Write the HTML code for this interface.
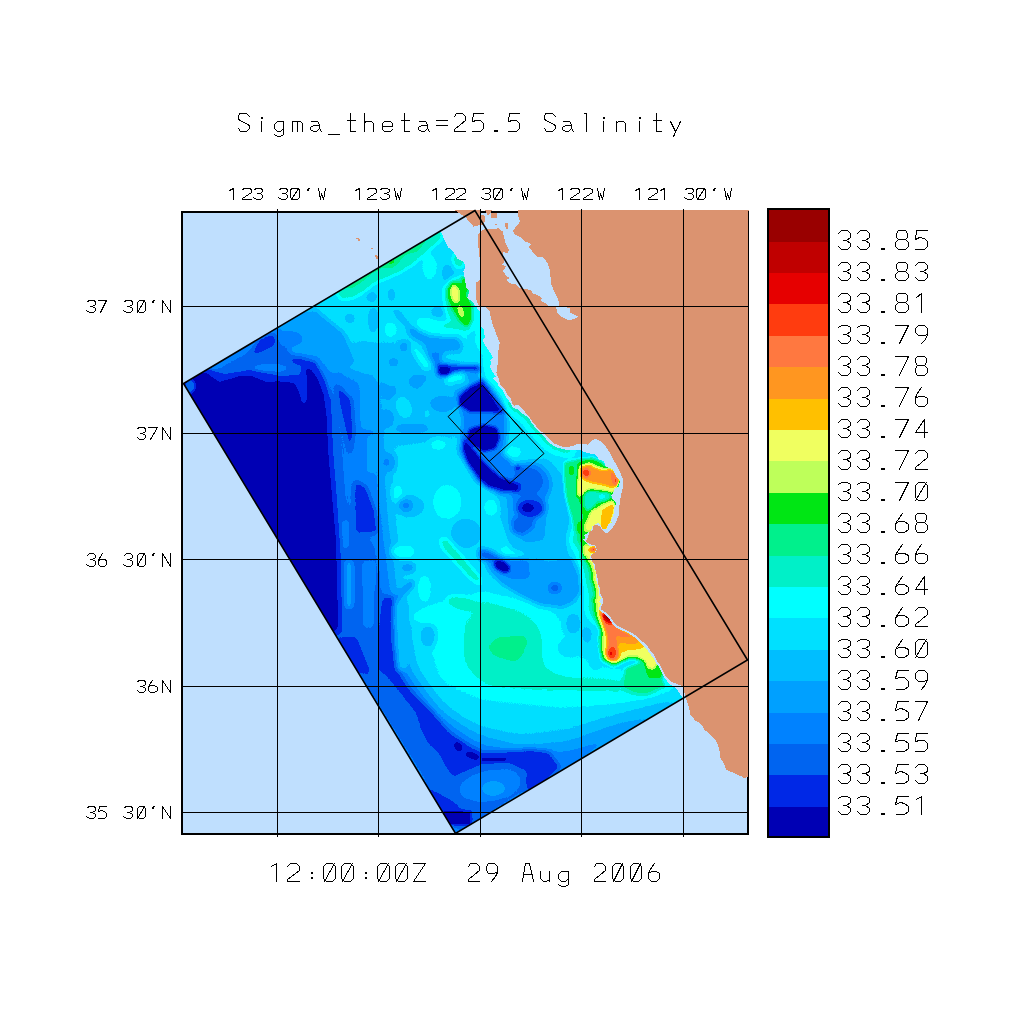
<!DOCTYPE html>
<html><head><meta charset="utf-8"><title>Sigma_theta=25.5 Salinity</title>
<style>html,body{margin:0;padding:0;background:#fff;font-family:"Liberation Sans",sans-serif;}body{width:1024px;height:1024px;overflow:hidden}svg{display:block}</style>
</head><body>
<svg width="1024" height="1024" viewBox="0 0 1024 1024" shape-rendering="crispEdges">
<defs>
<clipPath id="dom"><polygon points="475.0,210.5 183.5,383.5 455.5,833.5 747.5,660.0"/></clipPath>
<clipPath id="inner"><rect x="183" y="213" width="564" height="620"/></clipPath>
<clipPath id="frame"><rect x="181" y="210" width="568" height="625"/></clipPath>
<filter id="b1" x="-50%" y="-50%" width="200%" height="200%" color-interpolation-filters="sRGB"><feGaussianBlur stdDeviation="1.2"/></filter>
<filter id="b15" x="-50%" y="-50%" width="200%" height="200%" color-interpolation-filters="sRGB"><feGaussianBlur stdDeviation="1.5"/></filter>
<filter id="b2" x="-50%" y="-50%" width="200%" height="200%" color-interpolation-filters="sRGB"><feGaussianBlur stdDeviation="2"/></filter>
<filter id="b25" x="-50%" y="-50%" width="200%" height="200%" color-interpolation-filters="sRGB"><feGaussianBlur stdDeviation="2.5"/></filter>
<filter id="b3" x="-50%" y="-50%" width="200%" height="200%" color-interpolation-filters="sRGB"><feGaussianBlur stdDeviation="3"/></filter>
<filter id="b4" x="-50%" y="-50%" width="200%" height="200%" color-interpolation-filters="sRGB"><feGaussianBlur stdDeviation="4"/></filter>
<filter id="b5" x="-50%" y="-50%" width="200%" height="200%" color-interpolation-filters="sRGB"><feGaussianBlur stdDeviation="5"/></filter>
<filter id="b6" x="-50%" y="-50%" width="200%" height="200%" color-interpolation-filters="sRGB"><feGaussianBlur stdDeviation="6"/></filter>
<filter id="b8" x="-50%" y="-50%" width="200%" height="200%" color-interpolation-filters="sRGB"><feGaussianBlur stdDeviation="8"/></filter>
<filter id="b10" x="-50%" y="-50%" width="200%" height="200%" color-interpolation-filters="sRGB"><feGaussianBlur stdDeviation="10"/></filter>
<filter id="cmap" x="0" y="0" width="1024" height="1024" filterUnits="userSpaceOnUse" color-interpolation-filters="sRGB"><feComponentTransfer><feFuncR type="discrete" tableValues="0.0000 0.0000 0.0000 0.0000 0.0000 0.0000 0.0000 0.0000 0.0000 0.0000 0.0000 0.7451 0.9412 1.0000 1.0000 1.0000 1.0000 0.9020 0.7529 0.6000"/><feFuncG type="discrete" tableValues="0.0000 0.1569 0.3922 0.5098 0.6275 0.7451 0.8784 1.0000 0.9412 0.9412 0.9020 1.0000 1.0000 0.7529 0.5882 0.4706 0.2353 0.0000 0.0000 0.0000"/><feFuncB type="discrete" tableValues="0.7059 0.9020 0.9412 1.0000 1.0000 1.0000 1.0000 1.0000 0.7843 0.5490 0.0784 0.3529 0.3765 0.0000 0.1255 0.2510 0.0588 0.0000 0.0000 0.0000"/></feComponentTransfer></filter>
</defs>
<rect x="181" y="211" width="568" height="624" fill="#000"/>
<rect x="183" y="213" width="564" height="620" fill="#BFDFFE"/>
<g clip-path="url(#dom)"><g filter="url(#cmap)">
<rect x="150" y="180" width="640" height="690" fill="#535353"/>
<g filter="url(#b8)">
<polygon points="400.0,640.0 405.0,690.0 430.0,712.0 470.0,728.0 520.0,736.0 570.0,730.0 610.0,716.0 665.0,695.0 700.0,720.0 470.0,860.0 380.0,700.0" fill="#464646"/>
<polygon points="305.0,305.0 175.0,384.0 456.0,840.0 665.0,715.0 610.0,730.0 570.0,745.0 520.0,750.0 480.0,738.0 440.0,710.0 410.0,670.0 398.0,600.0 388.0,520.0 382.0,440.0 378.0,384.0 362.0,376.0 342.0,366.0 327.0,342.0 311.0,320.0" fill="#2d2d2d"/>
<polygon points="280.0,335.0 170.0,384.0 456.0,845.0 560.0,772.0 520.0,772.0 470.0,752.0 430.0,717.0 398.0,672.0 383.0,600.0 374.0,545.0 346.0,505.0 342.0,450.0 336.0,400.0 312.0,365.0" fill="#202020"/>
<polygon points="345.0,340.0 400.0,345.0 440.0,358.0 472.0,376.0 468.0,400.0 458.0,436.0 400.0,446.0 380.0,444.0 374.0,390.0 355.0,360.0" fill="#464646"/>
<polygon points="445.0,600.0 520.0,598.0 556.0,610.0 572.0,650.0 600.0,668.0 680.0,688.0 640.0,704.0 560.0,708.0 480.0,700.0 440.0,682.0 428.0,640.0" fill="#606060"/>
<polygon points="478.0,592.0 500.0,602.0 522.0,612.0 538.0,624.0 542.0,645.0 540.0,668.0 565.0,678.0 620.0,676.0 672.0,682.0 676.0,692.0 620.0,692.0 540.0,690.0 485.0,686.0 464.0,662.0 466.0,622.0" fill="#6c6c6c"/>
</g>
<g filter="url(#b25)">
<polygon points="334.4,288.8 349.0,280.1 378.3,263.9 391.5,256.6 417.9,240.5 441.3,227.3 442.8,239.0 423.8,255.2 415.0,263.9 400.3,272.7 387.1,278.6 375.4,283.0 365.2,291.8 352.0,299.1 340.3,299.8" fill="#6c6c6c"/>
<polygon points="338.8,287.4 349.0,280.1 378.3,263.9 391.5,256.6 417.9,240.5 426.7,234.6 426.7,242.0 416.4,248.6 407.6,254.4 394.5,262.5 382.7,268.3 371.0,274.9 360.8,283.0 350.5,288.8" fill="#797979"/>
<polygon points="421.3,244.2 421.7,245.7 421.2,247.5 420.0,249.3 418.2,250.9 416.0,252.2 413.7,253.0 411.5,253.1 409.8,252.6 408.6,251.5 408.2,250.0 408.7,248.2 409.9,246.4 411.7,244.7 413.9,243.4 416.2,242.7 418.4,242.6 420.2,243.1" fill="#797979"/>
<polygon points="398.6,258.8 398.8,260.0 398.2,261.5 396.8,263.1 394.9,264.6 392.7,265.9 390.5,266.7 388.4,267.1 386.8,266.9 385.9,266.1 385.7,265.0 386.4,263.5 387.7,261.9 389.6,260.4 391.8,259.1 394.0,258.2 396.1,257.9 397.7,258.1" fill="#868686"/>
<polygon points="436.9,266.9 436.5,271.4 435.2,275.3 433.3,278.3 430.9,279.9 428.3,279.9 425.9,278.3 424.0,275.3 422.7,271.4 422.3,266.9 422.7,262.4 424.0,258.4 425.9,255.5 428.3,253.9 430.9,253.9 433.3,255.5 435.2,258.4 436.5,262.4" fill="#606060"/>
<polygon points="396.7,329.9 396.3,332.6 395.1,335.0 393.4,336.8 391.2,337.8 388.9,337.8 386.8,336.8 385.0,335.0 383.9,332.6 383.5,329.9 383.9,327.1 385.0,324.7 386.8,322.9 388.9,321.9 391.2,321.9 393.4,322.9 395.1,324.7 396.3,327.1" fill="#606060"/>
<polygon points="465.5,259.6 465.1,262.6 464.0,265.2 462.2,267.2 460.1,268.2 457.8,268.2 455.6,267.2 453.9,265.2 452.7,262.6 452.3,259.6 452.7,256.5 453.9,253.9 455.6,251.9 457.8,250.9 460.1,250.9 462.2,251.9 464.0,253.9 465.1,256.5" fill="#6c6c6c"/>
<polygon points="453.8,273.5 453.4,276.7 452.4,279.6 450.8,281.7 448.9,282.8 446.9,282.8 445.0,281.7 443.4,279.6 442.4,276.7 442.1,273.5 442.4,270.2 443.4,267.3 445.0,265.2 446.9,264.1 448.9,264.1 450.8,265.2 452.4,267.3 453.4,270.2" fill="#464646"/>
<polygon points="394.7,294.7 394.6,297.5 394.0,299.9 393.1,301.7 392.1,302.6 391.0,302.6 389.9,301.7 389.1,299.9 388.5,297.5 388.3,294.7 388.5,292.0 389.1,289.5 389.9,287.7 391.0,286.8 392.1,286.8 393.1,287.7 394.0,289.5 394.6,292.0" fill="#464646"/>
<polygon points="377.3,296.9 377.0,298.8 376.0,300.5 374.5,301.7 372.7,302.4 370.8,302.4 369.0,301.7 367.5,300.5 366.5,298.8 366.2,296.9 366.5,295.0 367.5,293.3 369.0,292.1 370.8,291.4 372.7,291.4 374.5,292.1 376.0,293.3 377.0,295.0" fill="#464646"/>
<polygon points="444.7,312.3 444.3,314.4 443.1,316.2 441.2,317.6 438.9,318.3 436.4,318.3 434.2,317.6 432.3,316.2 431.1,314.4 430.6,312.3 431.1,310.2 432.3,308.3 434.2,307.0 436.4,306.2 438.9,306.2 441.2,307.0 443.1,308.3 444.3,310.2" fill="#464646"/>
<polygon points="378.8,319.6 378.4,323.9 377.5,327.6 376.0,330.4 374.2,331.9 372.2,331.9 370.4,330.4 368.9,327.6 368.0,323.9 367.6,319.6 368.0,315.4 368.9,311.6 370.4,308.8 372.2,307.3 374.2,307.3 376.0,308.8 377.5,311.6 378.4,315.4" fill="#464646"/>
<polygon points="355.3,318.1 355.0,319.7 354.0,321.2 352.6,322.2 350.7,322.8 348.8,322.8 347.0,322.2 345.5,321.2 344.5,319.7 344.2,318.1 344.5,316.5 345.5,315.1 347.0,314.1 348.8,313.5 350.7,313.5 352.6,314.1 354.0,315.1 355.0,316.5" fill="#464646"/>
<polygon points="418.7,317.0 438.6,319.3 445.6,328.7 455.0,333.4 469.1,336.3 474.9,342.1 466.7,339.8 455.0,337.5 445.6,336.3 429.2,333.9 418.7,329.3 415.2,322.2" fill="#606060"/>
<polygon points="440.9,322.2 455.0,321.6 469.1,328.7 469.1,333.4 455.0,330.4 443.3,327.5" fill="#6c6c6c"/>
<polygon points="390.5,307.6 398.8,309.9 410.5,324.0 408.1,328.7 397.6,319.3" fill="#464646"/>
<polygon points="407.0,325.2 418.7,331.0 429.2,335.7 445.6,336.9 457.3,336.9 462.6,345.1 459.7,352.7 450.3,351.5 440.9,353.9 435.1,355.6 430.4,360.3 426.9,353.3 424.5,345.1 415.2,339.2 408.1,332.2" fill="#393939"/>
<polygon points="430.4,350.9 442.1,353.9 440.9,361.5 435.1,365.0 431.6,360.3" fill="#2d2d2d"/>
<polygon points="416.6,333.4 416.4,334.2 416.0,335.0 415.3,335.6 414.4,335.9 413.5,335.9 412.7,335.6 412.0,335.0 411.6,334.2 411.4,333.4 411.6,332.5 412.0,331.7 412.7,331.1 413.5,330.8 414.4,330.8 415.3,331.1 416.0,331.7 416.4,332.5" fill="#2d2d2d"/>
<polygon points="411.6,343.9 418.7,348.6 426.9,358.0 432.1,367.9 426.9,367.9 419.8,358.6 412.2,350.4" fill="#606060"/>
<polygon points="397.6,329.8 397.2,332.2 395.9,334.4 394.1,335.9 391.8,336.8 389.3,336.8 387.0,335.9 385.2,334.4 383.9,332.2 383.5,329.8 383.9,327.4 385.2,325.3 387.0,323.8 389.3,322.9 391.8,322.9 394.1,323.8 395.9,325.3 397.2,327.4" fill="#606060"/>
<polygon points="464.4,376.7 464.0,378.3 462.7,379.7 460.9,380.8 458.6,381.3 456.1,381.3 453.8,380.8 452.0,379.7 450.7,378.3 450.3,376.7 450.7,375.1 452.0,373.7 453.8,372.7 456.1,372.1 458.6,372.1 460.9,372.7 462.7,373.7 464.0,375.1" fill="#606060"/>
<polygon points="479.6,376.7 479.2,378.9 478.0,380.9 476.1,382.3 473.8,383.1 471.4,383.1 469.1,382.3 467.2,380.9 466.0,378.9 465.5,376.7 466.0,374.5 467.2,372.6 469.1,371.1 471.4,370.4 473.8,370.4 476.1,371.1 478.0,372.6 479.2,374.5" fill="#393939"/>
<polygon points="480.8,325.2 485.5,325.2 486.1,339.2 482.0,339.2" fill="#2d2d2d"/>
<polygon points="435.1,362.7 459.7,365.0 480.8,365.0 480.8,372.0 462.0,370.9 452.7,373.2 445.6,377.9 437.4,375.5" fill="#202020"/>
<polygon points="412.0,344.5 423.8,356.2 429.6,370.0 423.8,370.0 415.0,356.2" fill="#606060"/>
<polygon points="399.3,362.1 399.0,363.7 398.0,365.1 396.5,366.1 394.7,366.7 392.8,366.7 390.9,366.1 389.5,365.1 388.5,363.7 388.2,362.1 388.5,360.5 389.5,359.1 390.9,358.0 392.8,357.5 394.7,357.5 396.5,358.0 398.0,359.1 399.0,360.5" fill="#393939"/>
<polygon points="409.5,346.7 409.2,348.6 408.2,350.3 406.8,351.5 404.9,352.2 403.0,352.2 401.2,351.5 399.7,350.3 398.7,348.6 398.4,346.7 398.7,344.8 399.7,343.1 401.2,341.9 403.0,341.2 404.9,341.2 406.8,341.9 408.2,343.1 409.2,344.8" fill="#393939"/>
<polygon points="442.8,290.3 450.1,278.6 461.8,277.1 469.2,290.3 476.5,305.0 475.0,325.5 469.2,332.8 456.0,328.4 445.7,313.8" fill="#6c6c6c"/>
<polygon points="279.6,327.2 314.8,309.6 344.0,333.0 355.8,362.4 332.4,374.0 317.7,356.5 291.3,353.6" fill="#393939"/>
<polygon points="250.5,354.2 259.3,338.1 273.9,332.2 276.9,343.9 268.1,348.3 256.4,354.2" fill="#131313"/>
<polygon points="289.3,368.1 288.2,369.6 284.9,370.9 279.8,371.9 273.6,372.4 267.0,372.4 260.8,371.9 255.7,370.9 252.4,369.6 251.2,368.1 252.4,366.6 255.7,365.3 260.8,364.3 267.0,363.8 273.6,363.8 279.8,364.3 284.9,365.3 288.2,366.6" fill="#2d2d2d"/>
<polygon points="303.2,338.8 302.4,341.6 300.2,344.0 296.7,345.8 292.3,346.8 287.8,346.8 283.5,345.8 280.0,344.0 277.7,341.6 276.9,338.8 277.7,336.1 280.0,333.6 283.5,331.8 287.8,330.9 292.3,330.9 296.7,331.8 300.2,333.6 302.4,336.1" fill="#2d2d2d"/>
<polygon points="290.1,358.6 300.3,357.9 312.0,363.0 317.9,376.2 312.0,370.3 300.3,365.2 291.5,363.0" fill="#131313"/>
<polygon points="359.3,377.3 373.9,377.3 373.9,428.6 360.8,428.6" fill="#393939"/>
<polygon points="366.6,435.9 375.4,435.9 375.4,472.5 367.4,472.5" fill="#393939"/>
<polygon points="335.9,383.2 352.0,399.3 354.2,431.5 350.5,456.4 344.6,428.6 338.1,399.3" fill="#131313"/>
<polygon points="354.9,479.9 366.6,487.2 375.4,510.6 378.3,532.6 355.6,532.6 353.4,494.5" fill="#131313"/>
<polygon points="396.7,386.1 396.2,390.9 394.8,395.1 392.6,398.2 390.0,399.8 387.2,399.8 384.6,398.2 382.4,395.1 381.0,390.9 380.5,386.1 381.0,381.4 382.4,377.2 384.6,374.1 387.2,372.4 390.0,372.4 392.6,374.1 394.8,377.2 396.2,381.4" fill="#393939"/>
<polygon points="430.3,381.7 429.7,384.2 427.8,386.4 424.8,388.1 421.3,388.9 417.4,388.9 413.9,388.1 410.9,386.4 409.0,384.2 408.4,381.7 409.0,379.2 410.9,377.0 413.9,375.4 417.4,374.5 421.3,374.5 424.8,375.4 427.8,377.0 429.7,379.2" fill="#393939"/>
<polygon points="456.0,403.7 455.2,406.4 452.9,408.9 449.4,410.7 445.1,411.6 440.5,411.6 436.2,410.7 432.7,408.9 430.4,406.4 429.6,403.7 430.4,400.9 432.7,398.5 436.2,396.7 440.5,395.8 445.1,395.8 449.4,396.7 452.9,398.5 455.2,400.9" fill="#393939"/>
<polygon points="429.6,428.6 428.5,430.3 425.5,431.9 420.8,433.0 415.1,433.6 409.0,433.6 403.2,433.0 398.6,431.9 395.5,430.3 394.5,428.6 395.5,426.8 398.6,425.3 403.2,424.2 409.0,423.5 415.1,423.5 420.8,424.2 425.5,425.3 428.5,426.8" fill="#393939"/>
<polygon points="394.5,418.3 394.0,421.3 392.7,424.0 390.8,426.0 388.4,427.0 385.9,427.0 383.5,426.0 381.5,424.0 380.2,421.3 379.8,418.3 380.2,415.3 381.5,412.7 383.5,410.7 385.9,409.7 388.4,409.7 390.8,410.7 392.7,412.7 394.0,415.3" fill="#393939"/>
<polygon points="411.5,404.6 412.5,408.5 412.4,412.3 411.2,415.5 409.2,417.7 406.6,418.7 403.7,418.3 400.8,416.5 398.2,413.7 396.4,410.1 395.5,406.2 395.6,402.4 396.7,399.2 398.7,397.0 401.3,396.0 404.3,396.4 407.2,398.2 409.7,401.0" fill="#535353"/>
<polygon points="429.9,413.9 429.7,415.9 429.1,417.7 428.3,419.0 427.2,419.7 426.1,419.7 425.1,419.0 424.2,417.7 423.7,415.9 423.5,413.9 423.7,411.9 424.2,410.2 425.1,408.9 426.1,408.2 427.2,408.2 428.3,408.9 429.1,410.2 429.7,411.9" fill="#535353"/>
<polygon points="444.3,387.6 443.6,390.6 441.5,393.2 438.4,395.2 434.6,396.2 430.5,396.2 426.7,395.2 423.6,393.2 421.5,390.6 420.8,387.6 421.5,384.6 423.6,381.9 426.7,380.0 430.5,378.9 434.6,378.9 438.4,380.0 441.5,381.9 443.6,384.6" fill="#464646"/>
<polygon points="457.4,425.7 456.6,427.9 454.4,429.9 450.8,431.4 446.5,432.2 442.0,432.2 437.7,431.4 434.2,429.9 431.9,427.9 431.1,425.7 431.9,423.4 434.2,421.4 437.7,420.0 442.0,419.2 446.5,419.2 450.8,420.0 454.4,421.4 456.6,423.4" fill="#464646"/>
<polygon points="400.3,378.8 399.8,381.3 398.3,383.5 395.9,385.1 393.0,386.0 390.0,386.0 387.1,385.1 384.8,383.5 383.3,381.3 382.7,378.8 383.3,376.3 384.8,374.1 387.1,372.4 390.0,371.6 393.0,371.6 395.9,372.4 398.3,374.1 399.8,376.3" fill="#464646"/>
<polygon points="447.2,444.7 446.7,446.7 445.1,448.5 442.8,449.8 439.9,450.5 436.9,450.5 434.0,449.8 431.7,448.5 430.1,446.7 429.6,444.7 430.1,442.7 431.7,440.9 434.0,439.6 436.9,438.9 439.9,438.9 442.8,439.6 445.1,440.9 446.7,442.7" fill="#606060"/>
<polygon points="461.8,501.8 461.0,507.8 458.4,513.1 454.5,517.1 449.7,519.1 444.6,519.1 439.9,517.1 436.0,513.1 433.4,507.8 432.5,501.8 433.4,495.8 436.0,490.5 439.9,486.6 444.6,484.5 449.7,484.5 454.5,486.6 458.4,490.5 461.0,495.8" fill="#606060"/>
<polygon points="403.2,493.0 402.9,496.1 401.9,498.7 400.3,500.7 398.4,501.7 396.4,501.7 394.5,500.7 392.9,498.7 391.9,496.1 391.5,493.0 391.9,490.0 392.9,487.4 394.5,485.4 396.4,484.4 398.4,484.4 400.3,485.4 401.9,487.4 402.9,490.0" fill="#606060"/>
<polygon points="396.4,462.3 395.8,465.9 394.4,469.1 392.1,471.4 389.3,472.7 386.4,472.7 383.6,471.4 381.4,469.1 379.9,465.9 379.4,462.3 379.9,458.7 381.4,455.5 383.6,453.2 386.4,451.9 389.3,451.9 392.1,453.2 394.4,455.5 395.8,458.7" fill="#393939"/>
<polygon points="390.5,462.3 390.3,463.9 389.5,465.3 388.4,466.3 387.1,466.9 385.7,466.9 384.3,466.3 383.3,465.3 382.5,463.9 382.3,462.3 382.5,460.7 383.3,459.3 384.3,458.2 385.7,457.7 387.1,457.7 388.4,458.2 389.5,459.3 390.3,460.7" fill="#2d2d2d"/>
<polygon points="424.5,506.2 423.6,510.0 421.1,513.3 417.2,515.7 412.4,517.0 407.3,517.0 402.5,515.7 398.6,513.3 396.1,510.0 395.2,506.2 396.1,502.5 398.6,499.2 402.5,496.7 407.3,495.4 412.4,495.4 417.2,496.7 421.1,499.2 423.6,502.5" fill="#464646"/>
<polygon points="412.3,505.5 412.0,507.3 410.9,508.9 409.2,510.1 407.2,510.7 405.1,510.7 403.1,510.1 401.5,508.9 400.4,507.3 400.0,505.5 400.4,503.7 401.5,502.1 403.1,500.9 405.1,500.3 407.2,500.3 409.2,500.9 410.9,502.1 412.0,503.7" fill="#2d2d2d"/>
<polygon points="465.2,378.1 464.9,379.5 463.9,380.7 462.4,381.6 460.6,382.1 458.7,382.1 456.9,381.6 455.4,380.7 454.4,379.5 454.1,378.1 454.4,376.7 455.4,375.4 456.9,374.5 458.7,374.0 460.6,374.0 462.4,374.5 463.9,375.4 464.9,376.7" fill="#606060"/>
<polygon points="344.6,561.0 353.4,561.0 353.4,607.9 344.6,607.9" fill="#393939"/>
<polygon points="362.2,561.0 373.9,561.0 373.9,628.4 363.0,628.4" fill="#2d2d2d"/>
<polygon points="341.7,520.0 349.0,520.0 349.0,549.3 342.5,549.3" fill="#2d2d2d"/>
<polygon points="335.9,637.2 356.4,637.2 371.0,673.8 352.0,673.8" fill="#131313"/>
<polygon points="394.5,602.0 406.2,602.0 407.6,670.0 397.4,670.0" fill="#464646"/>
<polygon points="383.5,596.2 394.5,596.2 392.3,622.5 393.7,651.8 398.1,672.3 379.1,672.3 379.5,622.5 381.0,602.0" fill="#131313"/>
<polygon points="394.5,596.2 406.2,584.5 412.0,580.1 414.2,585.2 403.2,594.0 394.5,602.8" fill="#2d2d2d"/>
<polygon points="415.7,551.5 414.9,553.9 412.8,556.0 409.5,557.6 405.4,558.4 401.1,558.4 397.0,557.6 393.7,556.0 391.5,553.9 390.8,551.5 391.5,549.1 393.7,547.0 397.0,545.4 401.1,544.6 405.4,544.6 409.5,545.4 412.8,547.0 414.9,549.1" fill="#606060"/>
<polygon points="431.5,588.8 431.1,593.6 429.9,597.8 428.0,600.9 425.7,602.6 423.3,602.6 421.0,600.9 419.1,597.8 417.9,593.6 417.5,588.8 417.9,584.1 419.1,579.9 421.0,576.8 423.3,575.1 425.7,575.1 428.0,576.8 429.9,579.9 431.1,584.1" fill="#606060"/>
<polygon points="476.7,606.6 475.4,610.4 470.3,614.4 462.0,618.2 451.6,621.2 440.4,623.2 429.6,623.9 420.5,623.2 414.4,621.1 411.8,618.0 413.1,614.2 418.2,610.2 426.5,606.4 436.9,603.3 448.1,601.3 458.9,600.7 468.0,601.4 474.1,603.5" fill="#606060"/>
<polygon points="439.9,537.6 447.2,538.3 480.9,577.9 480.9,585.2 470.6,579.3 441.3,547.1" fill="#6c6c6c"/>
<polygon points="479.6,607.9 478.0,609.8 474.7,610.9 470.0,611.2 464.4,610.5 458.8,609.0 453.7,606.8 449.7,604.2 447.4,601.6 447.0,599.1 448.6,597.2 451.9,596.1 456.6,595.8 462.2,596.5 467.8,598.0 472.9,600.2 476.9,602.7 479.2,605.4" fill="#6c6c6c"/>
<polygon points="415.3,567.6 414.8,569.4 413.5,571.0 411.4,572.2 409.0,572.8 406.3,572.8 403.8,572.2 401.8,571.0 400.5,569.4 400.0,567.6 400.5,565.8 401.8,564.2 403.8,563.0 406.3,562.4 409.0,562.4 411.4,563.0 413.5,564.2 414.8,565.8" fill="#393939"/>
<polygon points="435.8,636.5 435.3,640.4 434.0,643.8 432.0,646.4 429.5,647.7 426.8,647.7 424.3,646.4 422.3,643.8 421.0,640.4 420.5,636.5 421.0,632.5 422.3,629.1 424.3,626.6 426.8,625.2 429.5,625.2 432.0,626.6 434.0,629.1 435.3,632.5" fill="#464646"/>
<polygon points="481.6,533.2 480.7,538.2 478.0,542.6 473.9,545.9 468.9,547.6 463.6,547.6 458.5,545.9 454.4,542.6 451.8,538.2 450.8,533.2 451.8,528.2 454.4,523.8 458.5,520.5 463.6,518.8 468.9,518.8 473.9,520.5 478.0,523.8 480.7,528.2" fill="#464646"/>
<polygon points="377.1,667.1 397.6,670.0 409.3,689.0 434.2,713.9 450.3,733.0 467.9,744.7 482.5,752.0 530.0,749.1 535.3,772.5 520.6,769.6 508.9,763.8 482.5,763.8 462.0,772.5 453.2,776.9 444.5,763.8 438.6,752.0 428.3,743.2 421.0,728.6 416.6,713.9 402.0,694.9 388.8,678.8" fill="#131313"/>
<polygon points="520.9,780.3 519.9,785.8 515.3,791.3 507.7,796.1 497.9,799.7 487.1,801.6 476.7,801.6 467.8,799.6 461.6,796.0 458.8,791.2 459.8,785.7 464.4,780.2 472.0,775.3 481.8,771.8 492.6,769.9 503.1,769.9 511.9,771.8 518.1,775.4" fill="#2d2d2d"/>
<polygon points="505.2,788.7 504.5,791.2 502.5,793.4 499.4,795.0 495.6,795.9 491.5,795.9 487.7,795.0 484.5,793.4 482.5,791.2 481.8,788.7 482.5,786.1 484.5,783.9 487.7,782.3 491.5,781.4 495.6,781.4 499.4,782.3 502.5,783.9 504.5,786.1" fill="#393939"/>
<polygon points="423.9,784.3 453.2,801.8 475.2,822.3 438.6,822.3" fill="#131313"/>
<polygon points="525.6,748.4 549.0,751.3 560.8,767.4 538.8,787.9 525.6,792.3" fill="#131313"/>
<polygon points="661.8,681.0 660.7,685.8 657.4,690.0 652.3,693.1 646.1,694.7 639.5,694.7 633.3,693.1 628.2,690.0 624.9,685.8 623.8,681.0 624.9,676.3 628.2,672.1 633.3,669.0 639.5,667.3 646.1,667.3 652.3,669.0 657.4,672.1 660.7,676.3" fill="#797979"/>
<polygon points="580.2,648.1 579.6,651.1 577.6,653.7 574.5,655.7 570.8,656.7 566.8,656.7 563.1,655.7 560.1,653.7 558.1,651.1 557.4,648.1 558.1,645.1 560.1,642.4 563.1,640.4 566.8,639.4 570.8,639.4 574.5,640.4 577.6,642.4 579.6,645.1" fill="#535353"/>
<polygon points="599.3,662.7 599.0,665.6 598.3,668.2 597.2,670.1 595.9,671.1 594.5,671.1 593.1,670.1 592.0,668.2 591.3,665.6 591.1,662.7 591.3,659.8 592.0,657.2 593.1,655.3 594.5,654.3 595.9,654.3 597.2,655.3 598.3,657.2 599.0,659.8" fill="#535353"/>
<polygon points="484.4,559.6 494.6,555.2 535.7,558.1 581.1,558.1 582.5,590.3 573.8,602.0 562.0,607.9 538.6,605.0 521.0,596.2 502.0,584.5 488.8,571.3" fill="#393939"/>
<polygon points="488.8,558.8 528.3,558.8 530.5,578.6 509.3,578.6 494.6,569.8" fill="#2d2d2d"/>
<polygon points="560.9,588.1 560.5,589.9 559.4,591.5 557.8,592.7 555.8,593.3 553.6,593.3 551.6,592.7 550.0,591.5 548.9,589.9 548.6,588.1 548.9,586.3 550.0,584.7 551.6,583.5 553.6,582.9 555.8,582.9 557.8,583.5 559.4,584.7 560.5,586.3" fill="#202020"/>
<polygon points="506.4,518.5 538.6,518.5 538.6,547.8 523.9,551.5 507.1,539.0" fill="#2d2d2d"/>
<polygon points="514.4,522.2 524.7,522.2 529.1,533.2 529.1,542.0 522.5,542.0 520.7,533.2" fill="#131313"/>
<polygon points="478.5,548.6 488.8,550.0 502.0,557.4 494.6,561.7 478.5,558.8" fill="#202020"/>
<polygon points="528.3,551.1 527.5,553.2 524.9,555.0 521.0,556.4 516.2,557.1 511.1,557.1 506.4,556.4 502.5,555.0 499.9,553.2 499.0,551.1 499.9,549.0 502.5,547.1 506.4,545.7 511.1,545.0 516.2,545.0 521.0,545.7 524.9,547.1 527.5,549.0" fill="#606060"/>
<polygon points="487.3,647.4 497.6,637.2 525.4,635.7 528.3,641.6 522.5,654.8 515.2,662.1 494.6,656.2" fill="#797979"/>
<polygon points="580.0,624.0 579.6,627.6 578.4,630.8 576.5,633.1 574.2,634.4 571.8,634.4 569.5,633.1 567.6,630.8 566.4,627.6 566.0,624.0 566.4,620.4 567.6,617.2 569.5,614.9 571.8,613.6 574.2,613.6 576.5,614.9 578.4,617.2 579.6,620.4" fill="#464646"/>
<polygon points="591.6,635.0 591.3,637.9 590.5,640.5 589.3,642.3 587.7,643.4 586.1,643.4 584.6,642.3 583.3,640.5 582.5,637.9 582.2,635.0 582.5,632.1 583.3,629.5 584.6,627.6 586.1,626.6 587.7,626.6 589.3,627.6 590.5,629.5 591.3,632.1" fill="#464646"/>
<polygon points="499.1,463.4 547.5,458.8 566.2,479.1 569.4,518.1 567.8,558.8 547.5,561.9 511.6,549.4 500.6,518.1 497.5,486.9" fill="#464646"/>
<polygon points="511.6,479.1 541.2,471.2 547.5,502.5 544.4,540.0 525.6,543.1 510.0,527.5 506.9,502.5" fill="#393939"/>
<polygon points="511.6,518.1 535.0,515.0 533.4,527.5 522.5,535.3 511.6,532.2" fill="#202020"/>
<polygon points="454.6,392.0 482.5,378.8 504.5,392.0 507.4,413.9 505.9,452.0 522.0,481.3 522.0,494.5 498.6,494.5 476.6,481.3 459.0,452.0 462.0,418.3" fill="#2d2d2d"/>
<polygon points="551.3,484.3 550.0,491.8 546.2,498.4 540.3,503.3 533.2,505.9 525.5,505.9 518.4,503.3 512.5,498.4 508.7,491.8 507.4,484.3 508.7,476.7 512.5,470.1 518.4,465.2 525.5,462.6 533.2,462.6 540.3,465.2 546.2,470.1 550.0,476.7" fill="#2d2d2d"/>
<polygon points="543.3,481.3 542.3,486.1 539.7,490.3 535.6,493.4 530.6,495.0 525.2,495.0 520.2,493.4 516.1,490.3 513.4,486.1 512.5,481.3 513.4,476.6 516.1,472.4 520.2,469.3 525.2,467.6 530.6,467.6 535.6,469.3 539.7,472.4 542.3,476.6" fill="#202020"/>
<polygon points="546.2,507.0 545.2,511.2 542.4,515.0 538.1,517.7 532.9,519.2 527.3,519.2 522.0,517.7 517.7,515.0 514.9,511.2 514.0,507.0 514.9,502.7 517.7,499.0 522.0,496.2 527.3,494.7 532.9,494.7 538.1,496.2 542.4,499.0 545.2,502.7" fill="#202020"/>
<polygon points="456.4,379.5 456.0,381.3 455.0,382.9 453.3,384.1 451.3,384.7 449.2,384.7 447.2,384.1 445.5,382.9 444.5,381.3 444.1,379.5 444.5,377.7 445.5,376.1 447.2,375.0 449.2,374.3 451.3,374.3 453.3,375.0 455.0,376.1 456.0,377.7" fill="#606060"/>
<polygon points="522.2,452.0 521.6,454.1 519.9,456.0 517.3,457.4 514.2,458.1 510.8,458.1 507.7,457.4 505.1,456.0 503.4,454.1 502.8,452.0 503.4,449.9 505.1,448.1 507.7,446.7 510.8,446.0 514.2,446.0 517.3,446.7 519.9,448.1 521.6,449.9" fill="#606060"/>
<polygon points="454.9,501.8 454.5,506.8 453.2,511.3 451.1,514.5 448.6,516.3 446.0,516.3 443.5,514.5 441.5,511.3 440.2,506.8 439.7,501.8 440.2,496.8 441.5,492.4 443.5,489.2 446.0,487.4 448.6,487.4 451.1,489.2 453.2,492.4 454.5,496.8" fill="#606060"/>
<polygon points="498.6,507.7 498.2,510.7 496.9,513.3 494.9,515.3 492.5,516.4 490.0,516.4 487.6,515.3 485.7,513.3 484.4,510.7 483.9,507.7 484.4,504.7 485.7,502.0 487.6,500.1 490.0,499.0 492.5,499.0 494.9,500.1 496.9,502.0 498.2,504.7" fill="#606060"/>
</g>
<g filter="url(#b15)">
<polygon points="170.0,384.0 200.0,366.0 225.0,374.0 250.0,370.0 280.0,376.0 300.0,375.0 303.0,362.0 315.0,362.0 325.0,380.0 331.0,400.0 333.0,450.0 337.0,500.0 341.0,560.0 342.0,632.0 325.0,645.0" fill="#131313"/>
<polygon points="170.0,384.0 205.4,372.2 219.0,382.0 230.0,379.0 238.8,376.2 252.0,376.2 266.6,382.0 278.3,381.3 294.4,383.0 298.8,390.8 301.8,402.5 306.2,402.5 307.6,393.8 306.2,368.8 310.6,368.8 317.9,379.1 323.8,395.2 326.7,417.2 328.1,450.0 332.0,496.0 336.0,540.0 337.5,600.0 338.0,628.0 325.0,640.0" fill="#060606"/>
<polygon points="195.0,386.0 194.7,388.4 193.8,390.5 192.5,392.1 190.9,392.9 189.1,392.9 187.5,392.1 186.2,390.5 185.3,388.4 185.0,386.0 185.3,383.6 186.2,381.5 187.5,379.9 189.1,379.1 190.9,379.1 192.5,379.9 193.8,381.5 194.7,383.6" fill="#202020"/>
<polygon points="457.6,396.4 469.3,386.1 482.5,378.8 495.7,386.1 504.5,399.3 505.9,413.9 498.6,413.9 483.9,412.5 469.3,412.5 458.3,405.2" fill="#131313"/>
<polygon points="459.8,397.1 469.3,388.8 482.5,382.9 496.4,389.0 503.0,399.3 504.5,412.5 498.6,411.0 483.9,410.7 469.3,410.7 459.8,404.4" fill="#060606"/>
<polygon points="469.3,428.6 483.9,424.2 497.1,427.1 500.1,437.4 495.7,449.1 483.9,452.0 473.7,446.2 466.4,438.8" fill="#060606"/>
<polygon points="463.4,437.4 476.6,452.0 485.4,462.3 500.1,475.5 510.3,479.9 522.0,484.3 519.1,493.0 501.5,491.6 486.9,487.2 476.6,476.9 466.4,462.3 462.0,449.1" fill="#131313"/>
<polygon points="464.9,438.8 475.2,452.0 483.9,463.8 499.3,477.7 509.6,482.1 519.8,485.7 516.9,490.8 501.5,489.4 487.6,485.0 478.1,475.5 467.8,460.8 463.7,449.1" fill="#060606"/>
<polygon points="542.5,508.4 541.8,511.3 539.6,513.9 536.3,515.8 532.3,516.8 527.9,516.8 523.9,515.8 520.5,513.9 518.4,511.3 517.6,508.4 518.4,505.5 520.5,503.0 523.9,501.1 527.9,500.1 532.3,500.1 536.3,501.1 539.6,503.0 541.8,505.5" fill="#131313"/>
<polygon points="534.0,507.7 533.7,509.2 532.6,510.5 531.0,511.5 529.0,512.0 526.8,512.0 524.8,511.5 523.2,510.5 522.1,509.2 521.7,507.7 522.1,506.2 523.2,504.9 524.8,503.9 526.8,503.4 529.0,503.4 531.0,503.9 532.6,504.9 533.7,506.2" fill="#060606"/>
<polygon points="521.3,468.1 521.1,469.1 520.4,470.0 519.5,470.7 518.3,471.0 517.0,471.0 515.8,470.7 514.8,470.0 514.2,469.1 514.0,468.1 514.2,467.1 514.8,466.3 515.8,465.6 517.0,465.3 518.3,465.3 519.5,465.6 520.4,466.3 521.1,467.1" fill="#131313"/>
<polygon points="436.8,364.4 459.7,366.4 479.6,366.4 479.6,370.6 462.0,369.5 452.7,371.8 445.6,376.5 438.6,374.1" fill="#131313"/>
<polygon points="450.5,370.9 450.2,372.5 449.1,373.9 447.5,374.9 445.5,375.5 443.4,375.5 441.4,374.9 439.8,373.9 438.7,372.5 438.4,370.9 438.7,369.3 439.8,367.8 441.4,366.8 443.4,366.2 445.5,366.2 447.5,366.8 449.1,367.8 450.2,369.3" fill="#060606"/>
<polygon points="509.8,570.7 508.4,572.1 506.2,572.7 503.5,572.6 500.6,571.7 497.9,570.1 495.6,568.0 494.2,565.8 493.6,563.5 494.1,561.6 495.5,560.2 497.7,559.6 500.5,559.7 503.3,560.6 506.1,562.2 508.3,564.2 509.8,566.5 510.3,568.8" fill="#060606"/>
<polygon points="461.5,745.1 462.2,746.7 462.4,748.4 462.2,749.8 461.4,751.0 460.3,751.6 459.0,751.7 457.6,751.2 456.3,750.1 455.2,748.7 454.5,747.1 454.3,745.5 454.6,744.0 455.3,742.8 456.4,742.2 457.7,742.1 459.2,742.6 460.5,743.7" fill="#060606"/>
<polygon points="479.2,758.2 478.4,759.1 476.8,759.6 474.8,759.6 472.4,759.1 470.0,758.2 467.9,757.1 466.3,755.7 465.4,754.4 465.4,753.2 466.2,752.3 467.7,751.8 469.8,751.8 472.2,752.3 474.6,753.1 476.7,754.3 478.3,755.7 479.1,757.0" fill="#060606"/>
<polygon points="481.1,757.6 507.4,757.6 507.4,761.1 481.1,761.1" fill="#060606"/>
<polygon points="443.0,811.4 470.8,811.4 470.8,825.3 443.0,825.3" fill="#060606"/>
</g>
<g filter="url(#b3)">
<polyline points="472.5,301.9 475.9,306.7 479.8,311.6 480.8,320.4 481.2,326.3 484.2,329.2 484.7,338.0 482.2,339.9 486.1,346.8 491.0,353.6 493.0,357.5 490.5,360.5 491.5,364.4 489.6,366.3 492.0,371.2 495.9,377.0 493.0,378.0 497.9,383.9 498.8,386.8 502.7,390.7 505.6,396.6 509.5,401.5 512.5,407.3 517.3,409.3 523.2,414.2 528.1,417.1 533.0,424.9 537.9,430.8 542.7,434.7 548.6,442.5 556.4,447.4 564.2,449.3 568.8,450.5" fill="none" stroke="#606060" stroke-width="16.0" stroke-linejoin="round" stroke-linecap="round"/>
<polyline points="509.5,401.5 512.5,407.3 517.3,409.3 523.2,414.2 528.1,417.1 533.0,424.9 537.9,430.8 542.7,434.7 548.6,442.5 556.4,447.4 564.2,449.3 568.8,450.5" fill="none" stroke="#6c6c6c" stroke-width="7.0" stroke-linejoin="round" stroke-linecap="round"/>
<polyline points="611.8,522.7 607.9,524.6 606.9,528.6 603.0,529.5 599.0,522.7 594.2,525.1 592.2,526.6 591.2,530.5 587.3,533.0 584.4,535.4 585.9,538.3 583.0,539.3 587.0,543.5 590.0,546.0 595.0,546.5 596.0,550.0 595.0,552.5 591.5,554.0 590.3,556.5 589.3,557.9 591.2,560.8 593.2,562.7 594.2,568.6 596.1,572.5 595.6,578.4 598.1,585.2 599.0,591.0 599.0,595.9 601.0,597.9 599.0,601.8 601.0,603.8 599.0,607.7 599.5,610.0 603.0,613.0 608.0,617.0 612.0,623.0 615.0,627.0 621.0,630.0 626.0,632.0 632.0,635.5 636.5,639.0" fill="none" stroke="#606060" stroke-width="30.0" stroke-linejoin="round" stroke-linecap="round"/>
<polyline points="611.8,522.7 607.9,524.6 606.9,528.6 603.0,529.5 599.0,522.7 594.2,525.1 592.2,526.6 591.2,530.5 587.3,533.0 584.4,535.4 585.9,538.3 583.0,539.3 587.0,543.5 590.0,546.0 595.0,546.5 596.0,550.0 595.0,552.5 591.5,554.0 590.3,556.5 589.3,557.9 591.2,560.8 593.2,562.7 594.2,568.6 596.1,572.5 595.6,578.4 598.1,585.2 599.0,591.0 599.0,595.9 601.0,597.9 599.0,601.8 601.0,603.8 599.0,607.7 599.5,610.0 603.0,613.0 608.0,617.0 612.0,623.0 615.0,627.0 621.0,630.0 626.0,632.0 632.0,635.5 636.5,639.0" fill="none" stroke="#6c6c6c" stroke-width="20.0" stroke-linejoin="round" stroke-linecap="round"/>
<polyline points="611.8,522.7 607.9,524.6 606.9,528.6 603.0,529.5 599.0,522.7 594.2,525.1 592.2,526.6 591.2,530.5 587.3,533.0 584.4,535.4 585.9,538.3 583.0,539.3 587.0,543.5 590.0,546.0 595.0,546.5 596.0,550.0 595.0,552.5 591.5,554.0 590.3,556.5 589.3,557.9 591.2,560.8 593.2,562.7 594.2,568.6 596.1,572.5 595.6,578.4 598.1,585.2 599.0,591.0 599.0,595.9 601.0,597.9 599.0,601.8 601.0,603.8 599.0,607.7 599.5,610.0 603.0,613.0 608.0,617.0 612.0,623.0 615.0,627.0 621.0,630.0 626.0,632.0 632.0,635.5 636.5,639.0" fill="none" stroke="#797979" stroke-width="13.0" stroke-linejoin="round" stroke-linecap="round"/>
</g>
<g filter="url(#b15)">
<polyline points="611.8,522.7 607.9,524.6 606.9,528.6 603.0,529.5 599.0,522.7 594.2,525.1 592.2,526.6 591.2,530.5 587.3,533.0 584.4,535.4 585.9,538.3 583.0,539.3 587.0,543.5 590.0,546.0 595.0,546.5 596.0,550.0 595.0,552.5 591.5,554.0 590.3,556.5 589.3,557.9 591.2,560.8 593.2,562.7 594.2,568.6 596.1,572.5 595.6,578.4 598.1,585.2 599.0,591.0 599.0,595.9 601.0,597.9 599.0,601.8 601.0,603.8 599.0,607.7 599.5,610.0 603.0,613.0 608.0,617.0 612.0,623.0 615.0,627.0 621.0,630.0 626.0,632.0 632.0,635.5 636.5,639.0" fill="none" stroke="#868686" stroke-width="9.0" stroke-linejoin="round" stroke-linecap="round"/>
<polyline points="590.3,556.5 589.3,557.9 591.2,560.8 593.2,562.7 594.2,568.6 596.1,572.5 595.6,578.4 598.1,585.2 599.0,591.0 599.0,595.9 601.0,597.9 599.0,601.8 601.0,603.8 599.0,607.7 599.5,610.0 603.0,613.0 608.0,617.0 612.0,623.0 615.0,627.0 621.0,630.0 626.0,632.0 632.0,635.5 636.5,639.0" fill="none" stroke="#9f9f9f" stroke-width="4.5" stroke-linejoin="round" stroke-linecap="round"/>
<polygon points="447.2,288.8 451.6,281.5 458.9,281.5 466.2,293.2 472.8,305.0 471.4,322.5 466.2,327.7 458.9,321.1 450.1,306.4 447.2,297.6" fill="#868686"/>
<polygon points="460.4,275.7 467.7,278.6 469.2,293.2 461.8,290.3" fill="#868686"/>
<polygon points="459.3,293.4 459.5,296.4 459.1,299.1 458.3,301.2 457.2,302.4 455.7,302.6 454.3,301.8 452.9,300.0 451.8,297.5 451.2,294.5 451.0,291.5 451.3,288.8 452.2,286.7 453.3,285.5 454.7,285.3 456.2,286.2 457.6,287.9 458.6,290.5" fill="#9f9f9f"/>
<polygon points="463.0,310.8 463.6,313.0 463.8,315.0 463.7,316.6 463.2,317.6 462.4,317.9 461.5,317.3 460.4,316.1 459.4,314.4 458.6,312.3 458.0,310.1 457.8,308.1 457.9,306.5 458.4,305.5 459.2,305.3 460.2,305.8 461.2,307.0 462.2,308.7" fill="#939393"/>
<polygon points="461.5,309.0 461.9,310.4 462.1,311.8 462.1,312.8 461.9,313.4 461.5,313.5 461.0,313.2 460.4,312.3 459.8,311.1 459.3,309.7 458.9,308.3 458.6,306.9 458.6,305.9 458.8,305.3 459.2,305.2 459.8,305.6 460.4,306.4 461.0,307.6" fill="#9f9f9f"/>
<polygon points="563.9,462.2 572.7,460.3 580.5,458.3 592.2,457.3 602.0,461.2 606.9,466.1 614.7,468.1 620.5,478.8 616.6,488.6 614.7,498.4 617.6,506.2 614.7,517.9 608.8,531.6 574.6,531.6 571.7,517.9 565.9,498.4 563.9,478.8" fill="#797979"/>
<polygon points="577.1,463.7 580.5,460.8 592.2,459.3 602.0,462.2 605.9,467.1 612.7,469.1 618.6,478.8 614.7,488.6 612.7,498.4 615.7,506.2 612.7,517.9 606.9,531.6 583.4,531.6 582.9,517.9 582.0,508.1 578.1,498.4 576.6,488.6 577.6,476.9 578.1,469.1" fill="#868686"/>
<polygon points="569.3,466.1 573.7,466.1 573.7,474.9 569.3,474.9" fill="#868686"/>
<polygon points="576.6,484.7 579.5,467.1 589.3,463.2 603.0,469.1 613.7,469.1 620.5,480.8 613.7,492.5 603.0,490.5 589.3,488.6 584.4,492.5 577.6,497.4" fill="#9f9f9f"/>
<polygon points="579.5,467.1 589.3,464.2 595.2,468.1 602.0,470.0 610.8,468.1 614.7,472.0 619.6,480.8 617.6,486.6 612.7,487.6 603.0,484.7 592.2,482.7 584.4,479.8 579.5,474.9" fill="#b9b9b9"/>
<polygon points="610.8,470.0 614.7,472.0 619.6,480.8 617.6,486.6 612.7,484.7 610.8,476.9" fill="#c6c6c6"/>
<polygon points="590.0,473.0 589.7,474.4 589.0,475.6 587.9,476.5 586.6,477.0 585.2,477.0 583.8,476.5 582.7,475.6 582.0,474.4 581.8,473.0 582.0,471.6 582.7,470.3 583.8,469.4 585.2,468.9 586.6,468.9 587.9,469.4 589.0,470.3 589.7,471.6" fill="#d2d2d2"/>
<polygon points="587.2,472.8 587.2,473.2 586.9,473.7 586.6,474.0 586.1,474.1 585.6,474.1 585.2,474.0 584.8,473.7 584.6,473.2 584.5,472.8 584.6,472.3 584.8,471.9 585.2,471.6 585.6,471.4 586.1,471.4 586.6,471.6 586.9,471.9 587.2,472.3" fill="#dfdfdf"/>
<polygon points="618.8,480.3 618.7,481.2 618.3,481.9 617.7,482.5 617.0,482.8 616.3,482.8 615.6,482.5 615.0,481.9 614.6,481.2 614.5,480.3 614.6,479.4 615.0,478.7 615.6,478.1 616.3,477.8 617.0,477.8 617.7,478.1 618.3,478.7 618.7,479.4" fill="#d2d2d2"/>
<polygon points="585.4,492.5 591.2,491.0 608.8,492.5 611.3,496.4 606.9,500.3 597.1,502.3 592.2,508.1 587.3,511.1 583.4,504.2 584.4,496.4" fill="#6c6c6c"/>
<polygon points="606.4,496.4 606.1,497.3 605.4,498.2 604.2,498.8 602.8,499.1 601.2,499.1 599.8,498.8 598.6,498.2 597.9,497.3 597.6,496.4 597.9,495.5 598.6,494.6 599.8,494.0 601.2,493.7 602.8,493.7 604.2,494.0 605.4,494.6 606.1,495.5" fill="#606060"/>
<polygon points="597.1,508.1 606.9,502.3 614.7,500.3 616.6,506.2 614.7,513.0 611.8,523.8 605.9,530.6 584.4,531.6 589.3,517.9" fill="#9f9f9f"/>
<polygon points="605.9,507.1 612.7,504.2 615.2,511.1 611.8,517.9 608.8,523.8 606.4,530.6 601.0,530.6 601.0,521.8 603.9,515.9" fill="#acacac"/>
<polygon points="576.6,523.7 582.5,519.8 588.3,510.0 602.0,510.0 601.0,521.7 592.2,526.6 584.4,532.5 577.6,534.4" fill="#868686"/>
<polygon points="592.2,509.0 602.0,509.0 601.0,521.7 597.1,523.7 592.2,526.6 588.3,529.5 584.4,532.0 585.4,524.6 589.3,515.9" fill="#9f9f9f"/>
<polygon points="602.0,509.0 613.7,509.0 612.7,515.9 610.8,522.7 606.9,528.6 603.0,527.6 601.0,521.7" fill="#acacac"/>
<polygon points="582.5,545.2 589.3,545.2 589.3,555.9 583.4,555.9" fill="#9f9f9f"/>
<polygon points="597.6,549.6 597.3,550.9 596.6,552.1 595.4,552.9 594.0,553.4 592.4,553.4 591.0,552.9 589.8,552.1 589.1,550.9 588.8,549.6 589.1,548.2 589.8,547.0 591.0,546.2 592.4,545.7 594.0,545.7 595.4,546.2 596.6,547.0 597.3,548.2" fill="#b9b9b9"/>
<polygon points="596.1,549.6 596.0,550.4 595.6,551.1 594.9,551.7 594.1,552.0 593.3,552.0 592.5,551.7 591.8,551.1 591.4,550.4 591.2,549.6 591.4,548.7 591.8,548.0 592.5,547.4 593.3,547.1 594.1,547.1 594.9,547.4 595.6,548.0 596.0,548.7" fill="#d2d2d2"/>
<polygon points="592.0,598.0 602.7,598.0 603.7,610.7 617.3,624.4 640.8,638.1 652.5,650.8 664.2,670.3 662.3,678.1 648.6,679.1 644.7,662.5 631.0,658.6 622.2,662.5 613.4,666.4 601.7,660.5 598.8,646.9 599.8,629.3 593.9,614.6" fill="#868686"/>
<polygon points="625.2,668.4 644.7,660.5 648.6,678.1 660.3,678.1 666.2,687.9 624.2,687.9" fill="#797979"/>
<polygon points="644.7,662.5 658.4,663.5 664.2,671.3 660.3,676.2 650.5,678.1 646.6,674.2" fill="#868686"/>
<polygon points="595.9,598.0 602.2,598.0 602.7,610.7 616.4,624.4 638.8,638.1 648.6,646.9 657.4,662.5 653.5,669.3 647.6,667.4 643.7,659.6 635.9,655.7 628.1,656.2 622.2,659.6 615.4,662.5 606.6,659.6 602.7,650.8 603.7,632.2 597.8,614.6" fill="#9f9f9f"/>
<polygon points="599.3,609.8 604.6,612.2 614.4,624.4 622.2,630.3 633.0,635.2 637.9,638.1 638.8,641.0 634.9,642.0 619.3,641.0 617.8,646.9 619.8,654.7 616.4,660.5 609.5,660.5 605.6,654.7 607.6,643.0 606.1,632.2 601.2,619.5" fill="#c6c6c6"/>
<polygon points="618.3,642.0 638.8,640.5 645.7,646.9 638.8,649.3 627.1,650.3 621.2,653.2 619.3,648.8" fill="#acacac"/>
<polygon points="615.4,636.1 636.9,638.1 641.3,643.0 631.0,643.9 619.3,643.0 616.4,641.0" fill="#b9b9b9"/>
<polygon points="602.5,612.5 609.5,613.5 613.4,623.4 608.6,624.4 603.7,619.5" fill="#dfdfdf"/>
<polygon points="603.7,614.2 608.6,614.6 611.0,620.5 607.6,621.0 604.6,618.1" fill="#f9f9f9"/>
<polygon points="616.0,653.4 615.4,655.3 614.4,656.9 613.1,657.9 611.7,658.4 610.3,658.1 609.1,657.2 608.2,655.8 607.8,654.0 607.9,652.0 608.5,650.2 609.5,648.6 610.8,647.5 612.2,647.1 613.6,647.4 614.8,648.3 615.7,649.7 616.1,651.5" fill="#d2d2d2"/>
<polygon points="612.8,653.5 612.6,654.3 612.3,654.9 611.9,655.4 611.3,655.6 610.7,655.6 610.1,655.4 609.6,654.9 609.3,654.3 609.2,653.5 609.3,652.8 609.6,652.1 610.1,651.7 610.7,651.4 611.3,651.4 611.9,651.7 612.3,652.1 612.6,652.8" fill="#dfdfdf"/>
</g>
</g></g>
<g clip-path="url(#frame)" shape-rendering="crispEdges">
<polygon clip-path="url(#inner)" points="435.0,226.0 440.0,230.4 442.9,236.2 447.8,247.0 452.7,250.9 457.6,258.7 463.4,261.6 465.4,266.5 463.4,271.4 464.9,279.2 466.4,288.0 469.3,290.9 467.3,297.8 472.5,301.9 475.9,306.7 479.8,311.6 480.8,320.4 481.2,326.3 484.2,329.2 484.7,338.0 482.2,339.9 486.1,346.8 491.0,353.6 493.0,357.5 490.5,360.5 491.5,364.4 489.6,366.3 492.0,371.2 495.9,377.0 493.0,378.0 497.9,383.9 498.8,386.8 502.7,390.7 505.6,396.6 509.5,401.5 512.5,407.3 517.3,409.3 523.2,414.2 528.1,417.1 533.0,424.9 537.9,430.8 542.7,434.7 548.6,442.5 556.4,447.4 564.2,449.3 568.8,450.5 576.6,449.5 581.0,450.5 583.4,452.0 589.3,453.4 595.2,454.4 599.0,459.3 604.0,461.7 605.9,467.1 610.8,468.1 613.2,470.0 616.6,476.9 620.0,480.8 618.6,486.6 614.7,488.6 613.2,492.5 611.3,495.4 613.2,500.3 616.6,502.3 614.7,506.2 613.7,513.0 613.2,515.9 610.8,519.8 611.8,522.7 607.9,524.6 606.9,528.6 603.0,529.5 599.0,522.7 594.2,525.1 592.2,526.6 591.2,530.5 587.3,533.0 584.4,535.4 585.9,538.3 583.0,539.3 587.0,543.5 590.0,546.0 595.0,546.5 596.0,550.0 595.0,552.5 591.5,554.0 590.3,556.5 589.3,557.9 591.2,560.8 593.2,562.7 594.2,568.6 596.1,572.5 595.6,578.4 598.1,585.2 599.0,591.0 599.0,595.9 601.0,597.9 599.0,601.8 601.0,603.8 599.0,607.7 599.5,610.0 603.0,613.0 608.0,617.0 612.0,623.0 615.0,627.0 621.0,630.0 626.0,632.0 632.0,635.5 636.5,639.0 640.5,643.0 645.0,647.0 649.0,652.5 653.0,657.5 656.0,663.0 659.0,667.0 661.5,672.0 664.0,677.0 667.0,681.0 670.0,684.5 675.0,687.5 678.0,691.0 681.8,696.7 686.0,704.0 760.0,704.0 760.0,200.0 435.0,200.0" fill="#BFDFFE"/>
<polygon points="476.0,213.0 483.0,229.6 477.6,234.8 477.6,245.0 479.0,249.9 479.5,256.7 479.8,280.2 475.6,283.1 475.6,291.9 475.9,296.0 476.9,301.9 479.3,305.8 486.1,307.2 489.6,311.6 491.0,318.5 493.0,325.3 495.9,333.1 498.3,339.0 499.8,342.9 498.3,350.7 498.3,358.5 497.4,366.3 496.4,373.1 498.8,379.0 500.7,385.9 504.6,388.8 506.6,393.7 510.5,397.6 512.5,404.4 514.4,405.9 518.3,404.4 522.2,408.3 525.2,412.2 529.0,416.1 532.0,421.0 535.9,425.9 538.8,429.8 543.2,432.7 545.7,435.7 550.5,439.6 554.5,443.5 560.3,446.4 565.9,446.9 572.7,446.3 577.6,443.5 582.5,444.2 588.3,444.6 591.2,441.2 595.2,438.8 601.0,441.7 605.9,446.6 609.8,452.5 613.2,459.3 617.6,467.1 620.5,473.0 623.5,480.8 622.5,488.6 620.5,498.4 619.1,508.1 618.6,515.9 615.7,522.8 612.7,527.7 609.8,531.0 605.9,533.9 603.0,531.0 600.0,526.6 596.1,524.6 593.2,526.1 592.7,529.5 589.3,532.5 587.3,538.3 585.9,541.2 589.3,544.2 595.2,545.2 596.6,549.1 596.1,552.0 592.2,553.9 590.8,556.9 592.7,558.8 592.2,561.8 594.7,564.7 595.6,570.5 597.6,578.4 598.6,585.2 600.0,588.1 600.5,594.0 603.0,598.9 603.0,602.8 601.5,605.7 600.7,609.3 604.6,611.7 609.5,615.6 613.4,621.5 616.4,625.4 622.2,628.3 627.1,630.3 633.0,633.7 637.9,637.1 641.8,641.0 646.6,644.9 650.5,650.8 654.5,655.7 657.4,661.5 660.3,665.4 662.8,670.3 665.2,675.2 668.1,679.1 671.0,682.0 675.9,683.5 681.8,685.9 683.8,687.9 684.6,693.4 686.4,699.3 688.7,706.3 690.5,714.5 695.2,720.4 701.0,723.9 704.5,729.8 710.4,734.5 715.1,739.2 718.0,745.0 719.8,752.1 720.4,757.9 723.9,763.8 726.2,769.6 731.5,772.0 736.2,774.3 742.1,776.7 745.0,778.4 747.3,776.7 749.0,776.5 749.0,209.5 517.6,209.5 517.6,213.0" fill="#DB9370"/>
<polygon points="476.0,213.0 476.0,234.5 477.6,234.8 483.0,229.6 490.8,228.9 498.6,228.4 502.5,231.3 504.0,237.2 505.4,243.1 509.3,249.9 507.4,252.8 503.5,252.3 502.5,255.8 504.5,262.6 502.0,264.6 505.9,266.6 502.9,271.0 505.9,275.4 509.8,278.3 505.9,279.8 509.3,283.2 515.6,284.2 519.5,287.6 525.4,289.1 531.2,290.0 532.2,293.0 539.0,295.9 542.0,297.9 541.0,300.8 545.9,303.2 548.8,306.2 556.2,307.6 557.6,313.5 562.5,317.4 569.3,320.3 574.2,318.8 578.6,316.4 574.2,314.9 570.3,312.5 569.8,308.6 566.4,307.1 558.6,306.2 558.6,300.8 556.6,295.9 553.2,289.1 550.8,283.2 550.3,271.5 547.9,263.7 543.0,256.8 539.0,257.3 537.7,256.7 532.8,251.9 528.9,247.0 531.8,244.0 524.0,241.1 521.1,237.2 514.2,234.3 513.2,230.4 516.2,226.5 520.1,221.6 518.1,215.7 517.6,213.0" fill="#BFDFFE"/>
<polygon points="453.2,209.5 459.5,213.3 465.4,217.2 469.3,221.6 473.5,226.5 478.0,225.5 483.0,224.5 485.4,221.0 484.4,215.7 481.0,214.7 480.3,209.5" fill="#DB9370"/>
<polygon points="484.9,209.5 492.7,209.5 490.0,213.5 488.0,215.5 486.0,212.0" fill="#DB9370"/>
<polygon points="491.3,213.3 497.0,213.0 497.0,217.5 491.5,217.5" fill="#DB9370"/>
<polygon points="504.5,223.0 508.0,222.5 508.5,229.0 506.0,229.5" fill="#DB9370"/>
<polygon points="495.2,224.0 497.0,224.0 497.0,225.2 495.2,225.2" fill="#DB9370"/>
<rect x="355.5" y="237.5" width="3.0" height="1.5" fill="#DB9370"/>
<rect x="357.5" y="239.0" width="2.0" height="1.5" fill="#DB9370"/>
<rect x="371.0" y="248.3" width="2.0" height="1.0" fill="#DB9370"/>
<rect x="374.5" y="254.5" width="2.0" height="2.0" fill="#DB9370"/>
<rect x="375.5" y="256.0" width="2.5" height="3.0" fill="#DB9370"/>
</g>
<rect x="748" y="211" width="1" height="566" fill="#000"/>
<rect x="277" y="209" width="1" height="628" fill="#000"/>
<rect x="378" y="209" width="1" height="628" fill="#000"/>
<rect x="480" y="209" width="1" height="628" fill="#000"/>
<rect x="581" y="209" width="1" height="628" fill="#000"/>
<rect x="683" y="209" width="1" height="628" fill="#000"/>
<rect x="181" y="306" width="568" height="1" fill="#000"/>
<rect x="181" y="433" width="568" height="1" fill="#000"/>
<rect x="181" y="559" width="568" height="1" fill="#000"/>
<rect x="181" y="686" width="568" height="1" fill="#000"/>
<rect x="181" y="812" width="568" height="1" fill="#000"/>
<polygon points="475.0,210.5 183.5,383.5 455.5,833.5 747.5,660.0" fill="none" stroke="#000" stroke-width="1.6" shape-rendering="auto"/>
<polygon points="482.5,385.4 448.1,416.6 489.1,461.5 522.8,431.5" fill="none" stroke="#000" stroke-width="1" shape-rendering="auto"/><polygon points="503.0,409.3 468.6,438.8 509.6,483.5 544.0,453.5" fill="none" stroke="#000" stroke-width="1" shape-rendering="auto"/>
<rect x="767" y="208" width="63" height="630" fill="#000"/>
<rect x="769" y="210.2" width="59" height="31.7" fill="rgb(153,0,0)"/>
<rect x="769" y="241.6" width="59" height="31.7" fill="rgb(192,0,0)"/>
<rect x="769" y="273.0" width="59" height="31.7" fill="rgb(230,0,0)"/>
<rect x="769" y="304.4" width="59" height="31.7" fill="rgb(255,60,15)"/>
<rect x="769" y="335.8" width="59" height="31.7" fill="rgb(255,120,64)"/>
<rect x="769" y="367.2" width="59" height="31.7" fill="rgb(255,150,32)"/>
<rect x="769" y="398.6" width="59" height="31.7" fill="rgb(255,192,0)"/>
<rect x="769" y="430.0" width="59" height="31.7" fill="rgb(240,255,96)"/>
<rect x="769" y="461.4" width="59" height="31.7" fill="rgb(190,255,90)"/>
<rect x="769" y="492.8" width="59" height="31.7" fill="rgb(0,230,20)"/>
<rect x="769" y="524.2" width="59" height="31.7" fill="rgb(0,240,140)"/>
<rect x="769" y="555.6" width="59" height="31.7" fill="rgb(0,240,200)"/>
<rect x="769" y="587.0" width="59" height="31.7" fill="rgb(0,255,255)"/>
<rect x="769" y="618.4" width="59" height="31.7" fill="rgb(0,224,255)"/>
<rect x="769" y="649.8" width="59" height="31.7" fill="rgb(0,190,255)"/>
<rect x="769" y="681.2" width="59" height="31.7" fill="rgb(0,160,255)"/>
<rect x="769" y="712.6" width="59" height="31.7" fill="rgb(0,130,255)"/>
<rect x="769" y="744.0" width="59" height="31.7" fill="rgb(0,100,240)"/>
<rect x="769" y="775.4" width="59" height="31.7" fill="rgb(0,40,230)"/>
<rect x="769" y="806.8" width="59" height="29.5" fill="rgb(0,0,180)"/>
<g shape-rendering="crispEdges">
<path d="M838.5 233.5L841.5 230.5L847.5 230.5L850.5 233.5L850.5 237.5L846.5 240.5L843.5 240.5M846.5 240.5L850.5 243.5L850.5 246.5L847.5 249.5L841.5 249.5L838.5 246.5M857.5 233.5L860.5 230.5L866.5 230.5L869.5 233.5L869.5 237.5L865.5 240.5L862.5 240.5M865.5 240.5L869.5 243.5L869.5 246.5L866.5 249.5L860.5 249.5L857.5 246.5M898.5 230.5L905.5 230.5L907.5 233.5L907.5 237.5L905.5 239.5L898.5 239.5L896.5 237.5L896.5 233.5L898.5 230.5M898.5 239.5L895.5 242.5L895.5 246.5L898.5 249.5L905.5 249.5L908.5 246.5L908.5 242.5L905.5 239.5M927.5 230.5L916.5 230.5L915.5 239.5L919.5 237.5L924.5 238.5L927.5 241.5L927.5 246.5L924.5 249.5L915.5 249.5" fill="none" stroke="#000" stroke-width="1.00" stroke-linecap="square" stroke-linejoin="miter"/><rect x="880.5" y="247.5" width="4.0" height="2.5" fill="#000"/>
<path d="M838.5 265.5L841.5 262.5L847.5 262.5L850.5 265.5L850.5 268.5L846.5 271.5L843.5 271.5M846.5 271.5L850.5 274.5L850.5 277.5L847.5 280.5L841.5 280.5L838.5 277.5M857.5 265.5L860.5 262.5L866.5 262.5L869.5 265.5L869.5 268.5L865.5 271.5L862.5 271.5M865.5 271.5L869.5 274.5L869.5 277.5L866.5 280.5L860.5 280.5L857.5 277.5M898.5 262.5L905.5 262.5L907.5 264.5L907.5 268.5L905.5 271.5L898.5 271.5L896.5 268.5L896.5 264.5L898.5 262.5M898.5 271.5L895.5 274.5L895.5 277.5L898.5 280.5L905.5 280.5L908.5 277.5L908.5 274.5L905.5 271.5M915.5 265.5L918.5 262.5L924.5 262.5L927.5 265.5L927.5 268.5L923.5 271.5L920.5 271.5M923.5 271.5L927.5 274.5L927.5 277.5L924.5 280.5L918.5 280.5L915.5 277.5" fill="none" stroke="#000" stroke-width="1.00" stroke-linecap="square" stroke-linejoin="miter"/><rect x="880.5" y="278.5" width="4.0" height="2.5" fill="#000"/>
<path d="M838.5 296.5L841.5 293.5L847.5 293.5L850.5 296.5L850.5 300.5L846.5 302.5L843.5 302.5M846.5 302.5L850.5 305.5L850.5 309.5L847.5 312.5L841.5 312.5L838.5 309.5M857.5 296.5L860.5 293.5L866.5 293.5L869.5 296.5L869.5 300.5L865.5 302.5L862.5 302.5M865.5 302.5L869.5 305.5L869.5 309.5L866.5 312.5L860.5 312.5L857.5 309.5M898.5 293.5L905.5 293.5L907.5 295.5L907.5 300.5L905.5 302.5L898.5 302.5L896.5 300.5L896.5 295.5L898.5 293.5M898.5 302.5L895.5 305.5L895.5 309.5L898.5 312.5L905.5 312.5L908.5 309.5L908.5 305.5L905.5 302.5M916.5 297.5L921.5 293.5L921.5 312.5" fill="none" stroke="#000" stroke-width="1.00" stroke-linecap="square" stroke-linejoin="miter"/><rect x="880.5" y="310.5" width="4.0" height="2.5" fill="#000"/>
<path d="M838.5 327.5L841.5 325.5L847.5 325.5L850.5 327.5L850.5 331.5L846.5 334.5L843.5 334.5M846.5 334.5L850.5 337.5L850.5 340.5L847.5 343.5L841.5 343.5L838.5 340.5M857.5 327.5L860.5 325.5L866.5 325.5L869.5 327.5L869.5 331.5L865.5 334.5L862.5 334.5M865.5 334.5L869.5 337.5L869.5 340.5L866.5 343.5L860.5 343.5L857.5 340.5M895.5 325.5L908.5 325.5L899.5 343.5M927.5 334.5L924.5 335.5L918.5 335.5L915.5 332.5L915.5 328.5L918.5 325.5L924.5 325.5L927.5 328.5L927.5 334.5L925.5 339.5L921.5 343.5" fill="none" stroke="#000" stroke-width="1.00" stroke-linecap="square" stroke-linejoin="miter"/><rect x="880.5" y="341.5" width="4.0" height="2.5" fill="#000"/>
<path d="M838.5 359.5L841.5 356.5L847.5 356.5L850.5 359.5L850.5 362.5L846.5 365.5L843.5 365.5M846.5 365.5L850.5 368.5L850.5 372.5L847.5 375.5L841.5 375.5L838.5 372.5M857.5 359.5L860.5 356.5L866.5 356.5L869.5 359.5L869.5 362.5L865.5 365.5L862.5 365.5M865.5 365.5L869.5 368.5L869.5 372.5L866.5 375.5L860.5 375.5L857.5 372.5M895.5 356.5L908.5 356.5L899.5 375.5M917.5 356.5L924.5 356.5L926.5 358.5L926.5 362.5L924.5 365.5L917.5 365.5L915.5 362.5L915.5 358.5L917.5 356.5M917.5 365.5L915.5 368.5L915.5 372.5L917.5 375.5L924.5 375.5L927.5 372.5L927.5 368.5L924.5 365.5" fill="none" stroke="#000" stroke-width="1.00" stroke-linecap="square" stroke-linejoin="miter"/><rect x="880.5" y="373.5" width="4.0" height="2.5" fill="#000"/>
<path d="M838.5 390.5L841.5 387.5L847.5 387.5L850.5 390.5L850.5 394.5L846.5 397.5L843.5 397.5M846.5 397.5L850.5 400.5L850.5 403.5L847.5 406.5L841.5 406.5L838.5 403.5M857.5 390.5L860.5 387.5L866.5 387.5L869.5 390.5L869.5 394.5L865.5 397.5L862.5 397.5M865.5 397.5L869.5 400.5L869.5 403.5L866.5 406.5L860.5 406.5L857.5 403.5M895.5 387.5L908.5 387.5L899.5 406.5M921.5 387.5L916.5 394.5L915.5 398.5L915.5 403.5L918.5 406.5L924.5 406.5L927.5 403.5L927.5 398.5L924.5 396.5L918.5 396.5L915.5 398.5" fill="none" stroke="#000" stroke-width="1.00" stroke-linecap="square" stroke-linejoin="miter"/><rect x="880.5" y="404.5" width="4.0" height="2.5" fill="#000"/>
<path d="M838.5 422.5L841.5 419.5L847.5 419.5L850.5 422.5L850.5 425.5L846.5 428.5L843.5 428.5M846.5 428.5L850.5 431.5L850.5 434.5L847.5 437.5L841.5 437.5L838.5 434.5M857.5 422.5L860.5 419.5L866.5 419.5L869.5 422.5L869.5 425.5L865.5 428.5L862.5 428.5M865.5 428.5L869.5 431.5L869.5 434.5L866.5 437.5L860.5 437.5L857.5 434.5M895.5 419.5L908.5 419.5L899.5 437.5M924.5 419.5L915.5 432.5L927.5 432.5M924.5 419.5L924.5 437.5" fill="none" stroke="#000" stroke-width="1.00" stroke-linecap="square" stroke-linejoin="miter"/><rect x="880.5" y="435.5" width="4.0" height="2.5" fill="#000"/>
<path d="M838.5 453.5L841.5 450.5L847.5 450.5L850.5 453.5L850.5 457.5L846.5 459.5L843.5 459.5M846.5 459.5L850.5 462.5L850.5 466.5L847.5 469.5L841.5 469.5L838.5 466.5M857.5 453.5L860.5 450.5L866.5 450.5L869.5 453.5L869.5 457.5L865.5 459.5L862.5 459.5M865.5 459.5L869.5 462.5L869.5 466.5L866.5 469.5L860.5 469.5L857.5 466.5M895.5 450.5L908.5 450.5L899.5 469.5M915.5 453.5L918.5 450.5L924.5 450.5L927.5 453.5L927.5 457.5L915.5 467.5L915.5 469.5L927.5 469.5" fill="none" stroke="#000" stroke-width="1.00" stroke-linecap="square" stroke-linejoin="miter"/><rect x="880.5" y="467.5" width="4.0" height="2.5" fill="#000"/>
<path d="M838.5 484.5L841.5 482.5L847.5 482.5L850.5 484.5L850.5 488.5L846.5 491.5L843.5 491.5M846.5 491.5L850.5 494.5L850.5 497.5L847.5 500.5L841.5 500.5L838.5 497.5M857.5 484.5L860.5 482.5L866.5 482.5L869.5 484.5L869.5 488.5L865.5 491.5L862.5 491.5M865.5 491.5L869.5 494.5L869.5 497.5L866.5 500.5L860.5 500.5L857.5 497.5M895.5 482.5L908.5 482.5L899.5 500.5M918.5 482.5L924.5 482.5L927.5 485.5L927.5 497.5L924.5 500.5L918.5 500.5L915.5 497.5L915.5 485.5L918.5 482.5M926.5 482.5L915.5 500.5" fill="none" stroke="#000" stroke-width="1.00" stroke-linecap="square" stroke-linejoin="miter"/><rect x="880.5" y="498.5" width="4.0" height="2.5" fill="#000"/>
<path d="M838.5 516.5L841.5 513.5L847.5 513.5L850.5 516.5L850.5 519.5L846.5 522.5L843.5 522.5M846.5 522.5L850.5 525.5L850.5 529.5L847.5 532.5L841.5 532.5L838.5 529.5M857.5 516.5L860.5 513.5L866.5 513.5L869.5 516.5L869.5 519.5L865.5 522.5L862.5 522.5M865.5 522.5L869.5 525.5L869.5 529.5L866.5 532.5L860.5 532.5L857.5 529.5M902.5 513.5L897.5 520.5L895.5 523.5L895.5 529.5L898.5 532.5L904.5 532.5L908.5 529.5L908.5 524.5L904.5 521.5L898.5 521.5L895.5 524.5M917.5 513.5L924.5 513.5L926.5 515.5L926.5 519.5L924.5 522.5L917.5 522.5L915.5 519.5L915.5 515.5L917.5 513.5M917.5 522.5L915.5 525.5L915.5 529.5L917.5 532.5L924.5 532.5L927.5 529.5L927.5 525.5L924.5 522.5" fill="none" stroke="#000" stroke-width="1.00" stroke-linecap="square" stroke-linejoin="miter"/><rect x="880.5" y="530.5" width="4.0" height="2.5" fill="#000"/>
<path d="M838.5 547.5L841.5 544.5L847.5 544.5L850.5 547.5L850.5 551.5L846.5 554.5L843.5 554.5M846.5 554.5L850.5 557.5L850.5 560.5L847.5 563.5L841.5 563.5L838.5 560.5M857.5 547.5L860.5 544.5L866.5 544.5L869.5 547.5L869.5 551.5L865.5 554.5L862.5 554.5M865.5 554.5L869.5 557.5L869.5 560.5L866.5 563.5L860.5 563.5L857.5 560.5M902.5 544.5L897.5 551.5L895.5 555.5L895.5 560.5L898.5 563.5L904.5 563.5L908.5 560.5L908.5 555.5L904.5 553.5L898.5 553.5L895.5 555.5M921.5 544.5L916.5 551.5L915.5 555.5L915.5 560.5L918.5 563.5L924.5 563.5L927.5 560.5L927.5 555.5L924.5 553.5L918.5 553.5L915.5 555.5" fill="none" stroke="#000" stroke-width="1.00" stroke-linecap="square" stroke-linejoin="miter"/><rect x="880.5" y="561.5" width="4.0" height="2.5" fill="#000"/>
<path d="M838.5 579.5L841.5 576.5L847.5 576.5L850.5 579.5L850.5 582.5L846.5 585.5L843.5 585.5M846.5 585.5L850.5 588.5L850.5 591.5L847.5 594.5L841.5 594.5L838.5 591.5M857.5 579.5L860.5 576.5L866.5 576.5L869.5 579.5L869.5 582.5L865.5 585.5L862.5 585.5M865.5 585.5L869.5 588.5L869.5 591.5L866.5 594.5L860.5 594.5L857.5 591.5M902.5 576.5L897.5 583.5L895.5 586.5L895.5 591.5L898.5 594.5L904.5 594.5L908.5 591.5L908.5 587.5L904.5 584.5L898.5 584.5L895.5 587.5M924.5 576.5L915.5 589.5L927.5 589.5M924.5 576.5L924.5 594.5" fill="none" stroke="#000" stroke-width="1.00" stroke-linecap="square" stroke-linejoin="miter"/><rect x="880.5" y="592.5" width="4.0" height="2.5" fill="#000"/>
<path d="M838.5 610.5L841.5 607.5L847.5 607.5L850.5 610.5L850.5 614.5L846.5 616.5L843.5 616.5M846.5 616.5L850.5 619.5L850.5 623.5L847.5 626.5L841.5 626.5L838.5 623.5M857.5 610.5L860.5 607.5L866.5 607.5L869.5 610.5L869.5 614.5L865.5 616.5L862.5 616.5M865.5 616.5L869.5 619.5L869.5 623.5L866.5 626.5L860.5 626.5L857.5 623.5M902.5 607.5L897.5 614.5L895.5 618.5L895.5 623.5L898.5 626.5L904.5 626.5L908.5 623.5L908.5 618.5L904.5 615.5L898.5 615.5L895.5 618.5M915.5 610.5L918.5 607.5L924.5 607.5L927.5 610.5L927.5 614.5L915.5 624.5L915.5 626.5L927.5 626.5" fill="none" stroke="#000" stroke-width="1.00" stroke-linecap="square" stroke-linejoin="miter"/><rect x="880.5" y="624.5" width="4.0" height="2.5" fill="#000"/>
<path d="M838.5 641.5L841.5 639.5L847.5 639.5L850.5 641.5L850.5 645.5L846.5 648.5L843.5 648.5M846.5 648.5L850.5 651.5L850.5 654.5L847.5 657.5L841.5 657.5L838.5 654.5M857.5 641.5L860.5 639.5L866.5 639.5L869.5 641.5L869.5 645.5L865.5 648.5L862.5 648.5M865.5 648.5L869.5 651.5L869.5 654.5L866.5 657.5L860.5 657.5L857.5 654.5M902.5 639.5L897.5 646.5L895.5 649.5L895.5 654.5L898.5 657.5L904.5 657.5L908.5 654.5L908.5 649.5L904.5 647.5L898.5 647.5L895.5 649.5M918.5 639.5L924.5 639.5L927.5 642.5L927.5 654.5L924.5 657.5L918.5 657.5L915.5 654.5L915.5 642.5L918.5 639.5M926.5 639.5L915.5 657.5" fill="none" stroke="#000" stroke-width="1.00" stroke-linecap="square" stroke-linejoin="miter"/><rect x="880.5" y="655.5" width="4.0" height="2.5" fill="#000"/>
<path d="M838.5 673.5L841.5 670.5L847.5 670.5L850.5 673.5L850.5 676.5L846.5 679.5L843.5 679.5M846.5 679.5L850.5 682.5L850.5 686.5L847.5 689.5L841.5 689.5L838.5 686.5M857.5 673.5L860.5 670.5L866.5 670.5L869.5 673.5L869.5 676.5L865.5 679.5L862.5 679.5M865.5 679.5L869.5 682.5L869.5 686.5L866.5 689.5L860.5 689.5L857.5 686.5M908.5 670.5L897.5 670.5L895.5 678.5L900.5 677.5L904.5 677.5L908.5 681.5L908.5 686.5L904.5 689.5L896.5 689.5M927.5 679.5L924.5 681.5L918.5 681.5L915.5 678.5L915.5 673.5L918.5 670.5L924.5 670.5L927.5 673.5L927.5 679.5L925.5 684.5L921.5 689.5" fill="none" stroke="#000" stroke-width="1.00" stroke-linecap="square" stroke-linejoin="miter"/><rect x="880.5" y="687.5" width="4.0" height="2.5" fill="#000"/>
<path d="M838.5 704.5L841.5 701.5L847.5 701.5L850.5 704.5L850.5 708.5L846.5 711.5L843.5 711.5M846.5 711.5L850.5 714.5L850.5 717.5L847.5 720.5L841.5 720.5L838.5 717.5M857.5 704.5L860.5 701.5L866.5 701.5L869.5 704.5L869.5 708.5L865.5 711.5L862.5 711.5M865.5 711.5L869.5 714.5L869.5 717.5L866.5 720.5L860.5 720.5L857.5 717.5M908.5 701.5L897.5 701.5L895.5 710.5L900.5 708.5L904.5 709.5L908.5 712.5L908.5 717.5L904.5 720.5L896.5 720.5M915.5 701.5L927.5 701.5L918.5 720.5" fill="none" stroke="#000" stroke-width="1.00" stroke-linecap="square" stroke-linejoin="miter"/><rect x="880.5" y="718.5" width="4.0" height="2.5" fill="#000"/>
<path d="M838.5 736.5L841.5 733.5L847.5 733.5L850.5 736.5L850.5 739.5L846.5 742.5L843.5 742.5M846.5 742.5L850.5 745.5L850.5 748.5L847.5 751.5L841.5 751.5L838.5 748.5M857.5 736.5L860.5 733.5L866.5 733.5L869.5 736.5L869.5 739.5L865.5 742.5L862.5 742.5M865.5 742.5L869.5 745.5L869.5 748.5L866.5 751.5L860.5 751.5L857.5 748.5M908.5 733.5L897.5 733.5L895.5 741.5L900.5 740.5L904.5 740.5L908.5 743.5L908.5 748.5L904.5 751.5L896.5 751.5M927.5 733.5L916.5 733.5L915.5 741.5L919.5 740.5L924.5 740.5L927.5 743.5L927.5 748.5L924.5 751.5L915.5 751.5" fill="none" stroke="#000" stroke-width="1.00" stroke-linecap="square" stroke-linejoin="miter"/><rect x="880.5" y="749.5" width="4.0" height="2.5" fill="#000"/>
<path d="M838.5 767.5L841.5 764.5L847.5 764.5L850.5 767.5L850.5 771.5L846.5 773.5L843.5 773.5M846.5 773.5L850.5 776.5L850.5 780.5L847.5 783.5L841.5 783.5L838.5 780.5M857.5 767.5L860.5 764.5L866.5 764.5L869.5 767.5L869.5 771.5L865.5 773.5L862.5 773.5M865.5 773.5L869.5 776.5L869.5 780.5L866.5 783.5L860.5 783.5L857.5 780.5M908.5 764.5L897.5 764.5L895.5 773.5L900.5 771.5L904.5 772.5L908.5 775.5L908.5 780.5L904.5 783.5L896.5 783.5M915.5 767.5L918.5 764.5L924.5 764.5L927.5 767.5L927.5 771.5L923.5 773.5L920.5 773.5M923.5 773.5L927.5 776.5L927.5 780.5L924.5 783.5L918.5 783.5L915.5 780.5" fill="none" stroke="#000" stroke-width="1.00" stroke-linecap="square" stroke-linejoin="miter"/><rect x="880.5" y="781.5" width="4.0" height="2.5" fill="#000"/>
<path d="M838.5 798.5L841.5 796.5L847.5 796.5L850.5 798.5L850.5 802.5L846.5 805.5L843.5 805.5M846.5 805.5L850.5 808.5L850.5 811.5L847.5 814.5L841.5 814.5L838.5 811.5M857.5 798.5L860.5 796.5L866.5 796.5L869.5 798.5L869.5 802.5L865.5 805.5L862.5 805.5M865.5 805.5L869.5 808.5L869.5 811.5L866.5 814.5L860.5 814.5L857.5 811.5M908.5 796.5L897.5 796.5L895.5 804.5L900.5 802.5L904.5 803.5L908.5 806.5L908.5 811.5L904.5 814.5L896.5 814.5M916.5 799.5L921.5 796.5L921.5 814.5" fill="none" stroke="#000" stroke-width="1.00" stroke-linecap="square" stroke-linejoin="miter"/><rect x="880.5" y="812.5" width="4.0" height="2.5" fill="#000"/>
<path d="M249.5 116.5L246.5 113.5L239.5 113.5L238.5 116.5L238.5 119.5L249.5 125.5L249.5 128.5L246.5 131.5L240.5 131.5L238.5 128.5M261.5 121.5L261.5 131.5M283.5 121.5L277.5 121.5L274.5 124.5L274.5 128.5L277.5 131.5L280.5 131.5L283.5 128.5M283.5 121.5L283.5 134.5L280.5 136.5L277.5 136.5L274.5 134.5M292.5 131.5L292.5 121.5L300.5 121.5L302.5 123.5L302.5 131.5M297.5 121.5L297.5 131.5M311.5 121.5L317.5 121.5L319.5 124.5L319.5 128.5L321.5 131.5M319.5 125.5L313.5 125.5L310.5 127.5L310.5 129.5L313.5 131.5L316.5 131.5L319.5 128.5M328.5 134.5L339.5 134.5M350.5 113.5L350.5 131.5L355.5 131.5M347.5 120.5L355.5 120.5M364.5 113.5L364.5 131.5M364.5 122.5L366.5 121.5L371.5 121.5L373.5 123.5L373.5 131.5M382.5 126.5L392.5 126.5L392.5 123.5L390.5 121.5L384.5 121.5L382.5 123.5L382.5 129.5L384.5 131.5L390.5 131.5L392.5 129.5M404.5 113.5L404.5 131.5L409.5 131.5M401.5 120.5L409.5 120.5M419.5 121.5L425.5 121.5L427.5 124.5L427.5 128.5L429.5 131.5M427.5 125.5L421.5 125.5L418.5 127.5L418.5 129.5L421.5 131.5L424.5 131.5L427.5 128.5M436.5 120.5L447.5 120.5M436.5 125.5L447.5 125.5M454.5 116.5L456.5 113.5L462.5 113.5L465.5 116.5L465.5 120.5L454.5 129.5L454.5 131.5L465.5 131.5M483.5 113.5L473.5 113.5L472.5 121.5L476.5 120.5L480.5 120.5L483.5 123.5L483.5 128.5L480.5 131.5L472.5 131.5M519.5 113.5L509.5 113.5L508.5 121.5L512.5 120.5L516.5 120.5L519.5 123.5L519.5 128.5L516.5 131.5L508.5 131.5M555.5 116.5L552.5 113.5L545.5 113.5L544.5 116.5L544.5 119.5L555.5 125.5L555.5 128.5L552.5 131.5L546.5 131.5L544.5 128.5M563.5 121.5L569.5 121.5L571.5 124.5L571.5 128.5L573.5 131.5M571.5 125.5L565.5 125.5L562.5 127.5L562.5 129.5L565.5 131.5L568.5 131.5L571.5 128.5M584.5 113.5L586.5 113.5L586.5 131.5M603.5 121.5L603.5 131.5M616.5 121.5L616.5 131.5M616.5 123.5L618.5 121.5L623.5 121.5L625.5 123.5L625.5 131.5M639.5 121.5L639.5 131.5M656.5 113.5L656.5 131.5L661.5 131.5M653.5 120.5L661.5 120.5M670.5 121.5L675.5 131.5M680.5 121.5L673.5 136.5" fill="none" stroke="#000" stroke-width="1.00" stroke-linecap="square" stroke-linejoin="miter"/><rect x="260.5" y="117.0" width="2.0" height="2.0" fill="#000"/><rect x="493.5" y="129.5" width="4.0" height="2.5" fill="#000"/><rect x="602.5" y="117.0" width="2.0" height="2.0" fill="#000"/><rect x="638.5" y="117.0" width="2.0" height="2.0" fill="#000"/>
<path d="M271.5 866.5L276.5 863.5L276.5 881.5M287.5 866.5L290.5 863.5L296.5 863.5L299.5 866.5L299.5 870.5L287.5 879.5L287.5 881.5L299.5 881.5M326.5 863.5L332.5 863.5L335.5 866.5L335.5 878.5L332.5 881.5L326.5 881.5L323.5 878.5L323.5 866.5L326.5 863.5M334.5 863.5L324.5 881.5M344.5 863.5L350.5 863.5L353.5 866.5L353.5 878.5L350.5 881.5L344.5 881.5L341.5 878.5L341.5 866.5L344.5 863.5M352.5 863.5L342.5 881.5M380.5 863.5L386.5 863.5L389.5 866.5L389.5 878.5L386.5 881.5L380.5 881.5L377.5 878.5L377.5 866.5L380.5 863.5M388.5 863.5L378.5 881.5M398.5 863.5L404.5 863.5L407.5 866.5L407.5 878.5L404.5 881.5L398.5 881.5L395.5 878.5L395.5 866.5L398.5 863.5M406.5 863.5L396.5 881.5M413.5 863.5L425.5 863.5L413.5 881.5L425.5 881.5M468.5 866.5L470.5 863.5L476.5 863.5L479.5 866.5L479.5 870.5L468.5 879.5L468.5 881.5L479.5 881.5M497.5 871.5L494.5 873.5L488.5 873.5L486.5 870.5L486.5 866.5L488.5 863.5L494.5 863.5L497.5 866.5L497.5 872.5L495.5 876.5L491.5 881.5M522.5 881.5L525.5 863.5L529.5 863.5L533.5 881.5M523.5 874.5L532.5 874.5M540.5 871.5L540.5 878.5L543.5 881.5L546.5 881.5L549.5 879.5M549.5 871.5L549.5 881.5M568.5 871.5L561.5 871.5L558.5 874.5L558.5 878.5L561.5 881.5L565.5 881.5L568.5 878.5M568.5 871.5L568.5 884.5L565.5 886.5L561.5 886.5L558.5 884.5M594.5 866.5L596.5 863.5L602.5 863.5L605.5 866.5L605.5 870.5L594.5 879.5L594.5 881.5L605.5 881.5M615.5 863.5L620.5 863.5L623.5 866.5L623.5 878.5L620.5 881.5L615.5 881.5L612.5 878.5L612.5 866.5L615.5 863.5M622.5 863.5L613.5 881.5M633.5 863.5L638.5 863.5L641.5 866.5L641.5 878.5L638.5 881.5L633.5 881.5L630.5 878.5L630.5 866.5L633.5 863.5M640.5 863.5L631.5 881.5M654.5 863.5L649.5 870.5L648.5 873.5L648.5 878.5L651.5 881.5L656.5 881.5L659.5 878.5L659.5 873.5L656.5 871.5L651.5 871.5L648.5 873.5" fill="none" stroke="#000" stroke-width="1.00" stroke-linecap="square" stroke-linejoin="miter"/><rect x="310.5" y="872.0" width="2.0" height="2.0" fill="#000"/><rect x="310.5" y="877.0" width="2.0" height="2.0" fill="#000"/><rect x="364.5" y="872.0" width="2.0" height="2.0" fill="#000"/><rect x="364.5" y="877.0" width="2.0" height="2.0" fill="#000"/>
<path d="M229.5 190.5L233.5 188.5L233.5 199.5M242.5 189.5L244.5 188.5L249.5 188.5L251.5 189.5L251.5 192.5L242.5 198.5L242.5 199.5L251.5 199.5M254.5 189.5L256.5 188.5L260.5 188.5L262.5 189.5L262.5 191.5L260.5 193.5L257.5 193.5M260.5 193.5L262.5 195.5L262.5 197.5L260.5 199.5L256.5 199.5L253.5 197.5M279.5 189.5L281.5 188.5L285.5 188.5L287.5 189.5L287.5 191.5L285.5 193.5L282.5 193.5M285.5 193.5L287.5 195.5L287.5 197.5L285.5 199.5L281.5 199.5L278.5 197.5M292.5 188.5L297.5 188.5L299.5 189.5L299.5 197.5L297.5 199.5L292.5 199.5L290.5 197.5L290.5 189.5L292.5 188.5M298.5 188.5L291.5 199.5M318.5 188.5L320.5 199.5L321.5 193.5L323.5 199.5L325.5 188.5" fill="none" stroke="#000" stroke-width="1.00" stroke-linecap="square" stroke-linejoin="miter"/><rect x="308.0" y="188.0" width="2.0" height="1.0" fill="#000"/><rect x="307.0" y="189.0" width="2.0" height="2.0" fill="#000"/>
<path d="M355.5 190.5L359.5 188.5L359.5 199.5M367.5 189.5L369.5 188.5L374.5 188.5L376.5 189.5L376.5 192.5L367.5 198.5L367.5 199.5L376.5 199.5M380.5 189.5L382.5 188.5L386.5 188.5L389.5 189.5L389.5 191.5L386.5 193.5L384.5 193.5M386.5 193.5L389.5 195.5L389.5 197.5L386.5 199.5L382.5 199.5L380.5 197.5M394.5 188.5L396.5 199.5L397.5 193.5L399.5 199.5L401.5 188.5" fill="none" stroke="#000" stroke-width="1.00" stroke-linecap="square" stroke-linejoin="miter"/>
<path d="M432.5 190.5L436.5 188.5L436.5 199.5M445.5 189.5L447.5 188.5L452.5 188.5L454.5 189.5L454.5 192.5L445.5 198.5L445.5 199.5L454.5 199.5M456.5 189.5L459.5 188.5L463.5 188.5L465.5 189.5L465.5 192.5L456.5 198.5L456.5 199.5L465.5 199.5M482.5 189.5L484.5 188.5L488.5 188.5L490.5 189.5L490.5 191.5L488.5 193.5L485.5 193.5M488.5 193.5L490.5 195.5L490.5 197.5L488.5 199.5L484.5 199.5L481.5 197.5M495.5 188.5L500.5 188.5L502.5 189.5L502.5 197.5L500.5 199.5L495.5 199.5L493.5 197.5L493.5 189.5L495.5 188.5M501.5 188.5L494.5 199.5M521.5 188.5L523.5 199.5L524.5 193.5L526.5 199.5L528.5 188.5" fill="none" stroke="#000" stroke-width="1.00" stroke-linecap="square" stroke-linejoin="miter"/><rect x="511.0" y="188.0" width="2.0" height="1.0" fill="#000"/><rect x="510.0" y="189.0" width="2.0" height="2.0" fill="#000"/>
<path d="M558.5 190.5L562.5 188.5L562.5 199.5M570.5 189.5L572.5 188.5L577.5 188.5L579.5 189.5L579.5 192.5L570.5 198.5L570.5 199.5L579.5 199.5M583.5 189.5L585.5 188.5L589.5 188.5L592.5 189.5L592.5 192.5L583.5 198.5L583.5 199.5L592.5 199.5M597.5 188.5L599.5 199.5L600.5 193.5L602.5 199.5L604.5 188.5" fill="none" stroke="#000" stroke-width="1.00" stroke-linecap="square" stroke-linejoin="miter"/>
<path d="M635.5 190.5L639.5 188.5L639.5 199.5M648.5 189.5L650.5 188.5L655.5 188.5L657.5 189.5L657.5 192.5L648.5 198.5L648.5 199.5L657.5 199.5M660.5 190.5L664.5 188.5L664.5 199.5M685.5 189.5L687.5 188.5L691.5 188.5L693.5 189.5L693.5 191.5L691.5 193.5L688.5 193.5M691.5 193.5L693.5 195.5L693.5 197.5L691.5 199.5L687.5 199.5L684.5 197.5M698.5 188.5L703.5 188.5L705.5 189.5L705.5 197.5L703.5 199.5L698.5 199.5L696.5 197.5L696.5 189.5L698.5 188.5M704.5 188.5L697.5 199.5M724.5 188.5L726.5 199.5L727.5 193.5L729.5 199.5L731.5 188.5" fill="none" stroke="#000" stroke-width="1.00" stroke-linecap="square" stroke-linejoin="miter"/><rect x="714.0" y="188.0" width="2.0" height="1.0" fill="#000"/><rect x="713.0" y="189.0" width="2.0" height="2.0" fill="#000"/>
<path d="M87.5 301.5L89.5 300.5L93.5 300.5L95.5 301.5L95.5 304.5L92.5 306.5L90.5 306.5M92.5 306.5L95.5 308.5L95.5 310.5L93.5 312.5L89.5 312.5L86.5 310.5M98.5 300.5L106.5 300.5L100.5 312.5M124.5 301.5L126.5 300.5L130.5 300.5L132.5 301.5L132.5 304.5L129.5 306.5L127.5 306.5M129.5 306.5L132.5 308.5L132.5 310.5L130.5 312.5L126.5 312.5L123.5 310.5M139.5 300.5L143.5 300.5L145.5 302.5L145.5 310.5L143.5 312.5L139.5 312.5L137.5 310.5L137.5 302.5L139.5 300.5M144.5 300.5L137.5 312.5M162.5 312.5L162.5 300.5L170.5 312.5L170.5 300.5" fill="none" stroke="#000" stroke-width="1.00" stroke-linecap="square" stroke-linejoin="miter"/><rect x="153.0" y="300.0" width="2.0" height="1.0" fill="#000"/><rect x="152.0" y="301.0" width="2.0" height="2.0" fill="#000"/>
<path d="M137.5 428.5L139.5 427.5L143.5 427.5L145.5 428.5L145.5 431.5L142.5 433.5L140.5 433.5M142.5 433.5L145.5 435.5L145.5 437.5L143.5 439.5L139.5 439.5L137.5 437.5M148.5 427.5L157.5 427.5L150.5 439.5M162.5 439.5L162.5 427.5L170.5 439.5L170.5 427.5" fill="none" stroke="#000" stroke-width="1.00" stroke-linecap="square" stroke-linejoin="miter"/>
<path d="M87.5 555.5L89.5 553.5L93.5 553.5L95.5 555.5L95.5 557.5L92.5 559.5L90.5 559.5M92.5 559.5L95.5 561.5L95.5 564.5L93.5 566.5L89.5 566.5L86.5 564.5M102.5 553.5L99.5 558.5L98.5 560.5L98.5 564.5L100.5 566.5L104.5 566.5L106.5 564.5L106.5 560.5L104.5 559.5L100.5 559.5L98.5 560.5M124.5 555.5L126.5 553.5L130.5 553.5L132.5 555.5L132.5 557.5L129.5 559.5L127.5 559.5M129.5 559.5L132.5 561.5L132.5 564.5L130.5 566.5L126.5 566.5L123.5 564.5M139.5 553.5L143.5 553.5L145.5 555.5L145.5 564.5L143.5 566.5L139.5 566.5L137.5 564.5L137.5 555.5L139.5 553.5M144.5 553.5L137.5 565.5M162.5 566.5L162.5 553.5L170.5 566.5L170.5 553.5" fill="none" stroke="#000" stroke-width="1.00" stroke-linecap="square" stroke-linejoin="miter"/><rect x="153.0" y="553.0" width="2.0" height="1.0" fill="#000"/><rect x="152.0" y="554.0" width="2.0" height="2.0" fill="#000"/>
<path d="M137.5 681.5L139.5 680.5L143.5 680.5L145.5 681.5L145.5 684.5L142.5 686.5L140.5 686.5M142.5 686.5L145.5 688.5L145.5 690.5L143.5 692.5L139.5 692.5L137.5 690.5M152.5 680.5L149.5 684.5L148.5 687.5L148.5 690.5L150.5 692.5L154.5 692.5L157.5 690.5L157.5 687.5L154.5 685.5L150.5 685.5L148.5 687.5M162.5 692.5L162.5 680.5L170.5 692.5L170.5 680.5" fill="none" stroke="#000" stroke-width="1.00" stroke-linecap="square" stroke-linejoin="miter"/>
<path d="M87.5 807.5L89.5 806.5L93.5 806.5L95.5 807.5L95.5 810.5L92.5 812.5L90.5 812.5M92.5 812.5L95.5 814.5L95.5 816.5L93.5 818.5L89.5 818.5L86.5 816.5M106.5 806.5L99.5 806.5L98.5 811.5L101.5 810.5L104.5 811.5L106.5 813.5L106.5 816.5L104.5 818.5L98.5 818.5M124.5 807.5L126.5 806.5L130.5 806.5L132.5 807.5L132.5 810.5L129.5 812.5L127.5 812.5M129.5 812.5L132.5 814.5L132.5 816.5L130.5 818.5L126.5 818.5L123.5 816.5M139.5 806.5L143.5 806.5L145.5 808.5L145.5 816.5L143.5 818.5L139.5 818.5L137.5 816.5L137.5 808.5L139.5 806.5M144.5 806.5L137.5 818.5M162.5 818.5L162.5 806.5L170.5 818.5L170.5 806.5" fill="none" stroke="#000" stroke-width="1.00" stroke-linecap="square" stroke-linejoin="miter"/><rect x="153.0" y="806.0" width="2.0" height="1.0" fill="#000"/><rect x="152.0" y="807.0" width="2.0" height="2.0" fill="#000"/>
</g>
</svg>
</body></html>
